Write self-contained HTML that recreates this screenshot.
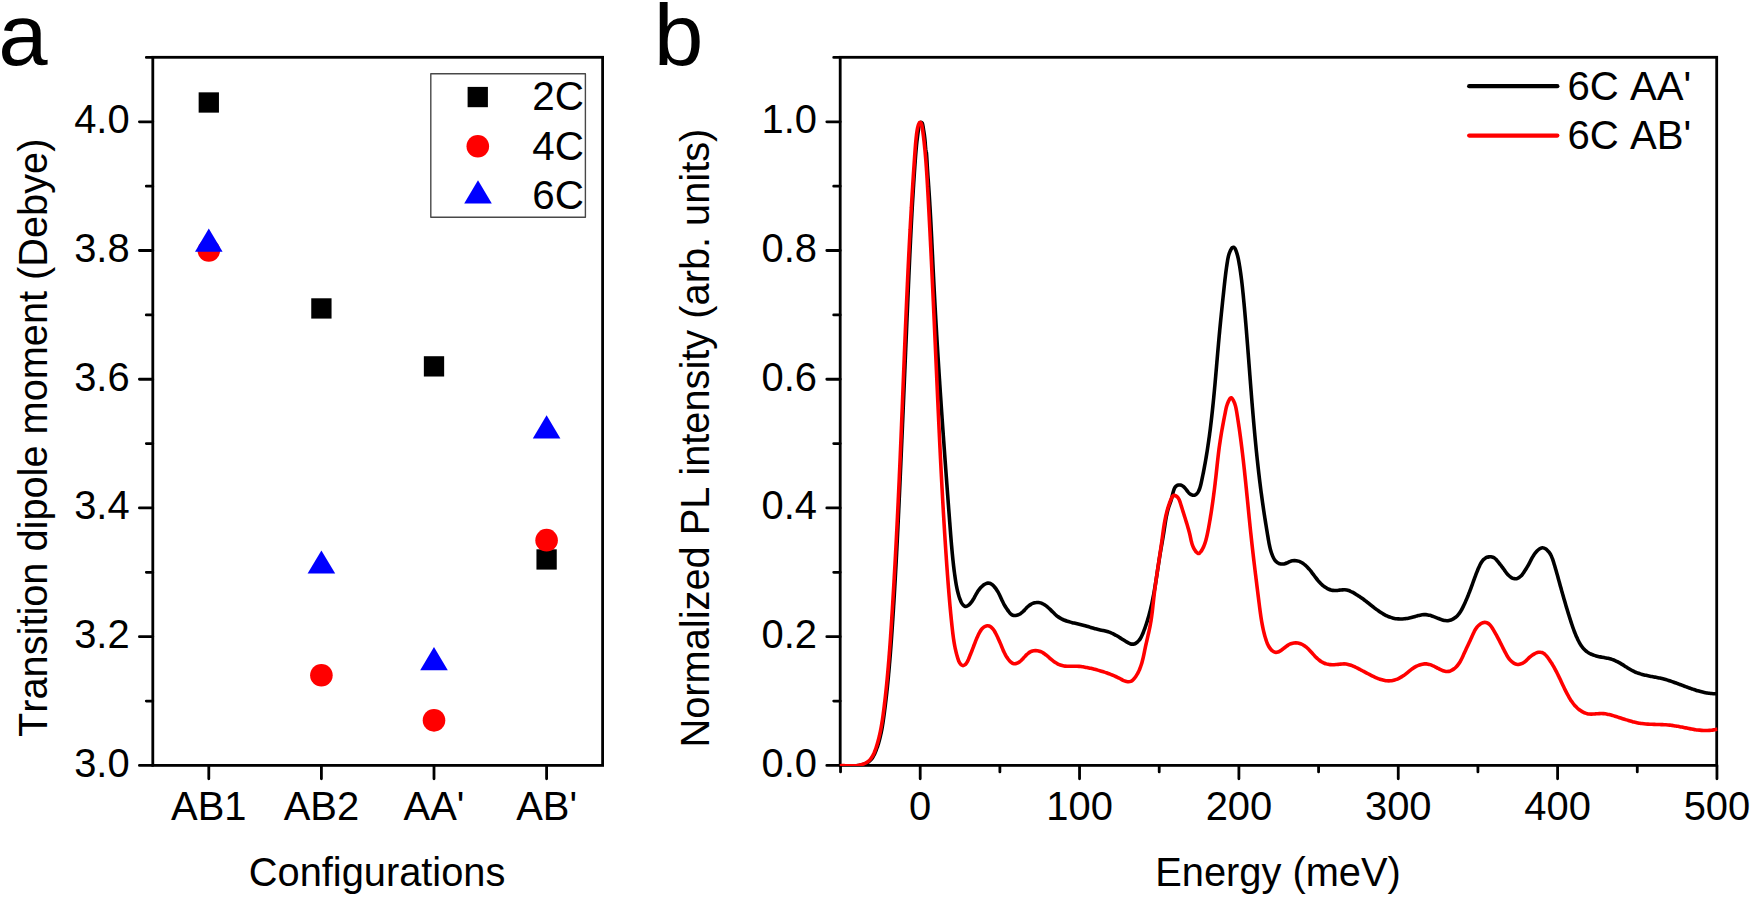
<!DOCTYPE html>
<html lang="en">
<head>
<meta charset="utf-8">
<title>Transition dipole moments and normalized PL spectra</title>
<style>
html,body{margin:0;padding:0;background:#fff;}
body{width:1750px;height:897px;overflow:hidden;}
svg{display:block;}
svg text{font-family:"Liberation Sans", Arial, Helvetica, sans-serif;fill:#000;font-kerning:none;}
</style>
</head>
<body>
<svg width="1750" height="897" viewBox="0 0 1750 897">
<rect width="1750" height="897" fill="#fff"/>
<text transform="translate(-1.8 64.9) scale(1.02 1)" font-size="87">a</text>
<text transform="translate(653.74 64.7) scale(1.0275 1)" font-size="87">b</text>
<g id="panel-a">
<rect x="152.8" y="57.3" width="449.8" height="708.1" fill="none" stroke="#000" stroke-width="2.8"/>
<path d="M152.8 765.4h-13.4M152.8 701.04h-6.5M152.8 636.68h-13.4M152.8 572.32h-6.5M152.8 507.96h-13.4M152.8 443.6h-6.5M152.8 379.24h-13.4M152.8 314.88h-6.5M152.8 250.52h-13.4M152.8 186.16h-6.5M152.8 121.8h-13.4M152.8 57.44h-6.5M208.8 765.4v13.4M321.4 765.4v13.4M434 765.4v13.4M546.6 765.4v13.4" stroke="#000" stroke-width="2.8" stroke-linecap="round" fill="none"/>
<text transform="translate(74.18 776.9) scale(0.9612 1)" font-size="41.5">3.0</text>
<text transform="translate(74.18 648.18) scale(0.9612 1)" font-size="41.5">3.2</text>
<text transform="translate(74.18 519.46) scale(0.9612 1)" font-size="41.5">3.4</text>
<text transform="translate(74.18 390.74) scale(0.9612 1)" font-size="41.5">3.6</text>
<text transform="translate(74.18 262.02) scale(0.9612 1)" font-size="41.5">3.8</text>
<text transform="translate(74.18 133.3) scale(0.9612 1)" font-size="41.5">4.0</text>
<text transform="translate(208.8 820) scale(0.9614 1)" text-anchor="middle" font-size="41.5">AB1</text>
<text transform="translate(321.4 820) scale(0.9614 1)" text-anchor="middle" font-size="41.5">AB2</text>
<text transform="translate(434 820) scale(0.9614 1)" text-anchor="middle" font-size="41.5">AA'</text>
<text transform="translate(546.6 820) scale(0.9614 1)" text-anchor="middle" font-size="41.5">AB'</text>
<text transform="translate(248.78 886.3) scale(0.9708 1)" font-size="41.0">Configurations</text>
<text transform="translate(47.4 736.99) rotate(-90) scale(0.9694 1)" font-size="41.0">Transition dipole moment (Debye)</text>
<rect x="198.65" y="92.34" width="20.3" height="20.3" fill="#000"/>
<rect x="311.25" y="298.29" width="20.3" height="20.3" fill="#000"/>
<rect x="423.85" y="356.22" width="20.3" height="20.3" fill="#000"/>
<rect x="536.45" y="549.3" width="20.3" height="20.3" fill="#000"/>
<circle cx="208.8" cy="250.52" r="11.3" fill="#f00"/>
<circle cx="321.4" cy="675.3" r="11.3" fill="#f00"/>
<circle cx="434" cy="720.35" r="11.3" fill="#f00"/>
<circle cx="546.6" cy="540.14" r="11.3" fill="#f00"/>
<path d="M208.8 228.62L222.6 251.82H195Z" fill="#00f"/>
<path d="M321.4 550.42L335.2 573.62H307.6Z" fill="#00f"/>
<path d="M434 646.96L447.8 670.16H420.2Z" fill="#00f"/>
<path d="M546.6 415.26L560.4 438.46H532.8Z" fill="#00f"/>
<rect x="430.8" y="73.7" width="154.6" height="143.5" fill="#fff" stroke="#484848" stroke-width="1.4" stroke-linejoin="round"/>
<rect x="467.6" y="86.9" width="20.3" height="20.3" fill="#000"/>
<circle cx="477.8" cy="146.3" r="11.3" fill="#f00"/>
<path d="M478 180.33L491.8 203.53H464.2Z" fill="#00f"/>
<text transform="translate(532.17 110.4) scale(0.9740 1)" font-size="41.5">2C</text>
<text transform="translate(532.17 159.5) scale(0.9740 1)" font-size="41.5">4C</text>
<text transform="translate(532.17 208.6) scale(0.9740 1)" font-size="41.5">6C</text>
</g>
<g id="panel-b">
<rect x="840.2" y="57.3" width="876.5" height="708.1" fill="none" stroke="#000" stroke-width="2.8"/>
<path d="M840.2 765.4h-13.4M840.2 701.04h-6.5M840.2 636.68h-13.4M840.2 572.32h-6.5M840.2 507.96h-13.4M840.2 443.6h-6.5M840.2 379.24h-13.4M840.2 314.88h-6.5M840.2 250.52h-13.4M840.2 186.16h-6.5M840.2 121.8h-13.4M840.2 57.44h-6.5M840.53 765.4v6.5M920.2 765.4v13.4M999.88 765.4v6.5M1079.55 765.4v13.4M1159.22 765.4v6.5M1238.9 765.4v13.4M1318.58 765.4v6.5M1398.25 765.4v13.4M1477.93 765.4v6.5M1557.6 765.4v13.4M1637.28 765.4v6.5M1716.95 765.4v13.4" stroke="#000" stroke-width="2.8" stroke-linecap="round" fill="none"/>
<text transform="translate(761.44 776.9) scale(0.9619 1)" font-size="41.5">0.0</text>
<text transform="translate(761.44 648.18) scale(0.9619 1)" font-size="41.5">0.2</text>
<text transform="translate(761.44 519.46) scale(0.9619 1)" font-size="41.5">0.4</text>
<text transform="translate(761.44 390.74) scale(0.9619 1)" font-size="41.5">0.6</text>
<text transform="translate(761.44 262.02) scale(0.9619 1)" font-size="41.5">0.8</text>
<text transform="translate(761.44 133.3) scale(0.9619 1)" font-size="41.5">1.0</text>
<text transform="translate(920.2 820.3) scale(0.9614 1)" text-anchor="middle" font-size="41.5">0</text>
<text transform="translate(1079.55 820.3) scale(0.9614 1)" text-anchor="middle" font-size="41.5">100</text>
<text transform="translate(1238.9 820.3) scale(0.9614 1)" text-anchor="middle" font-size="41.5">200</text>
<text transform="translate(1398.25 820.3) scale(0.9614 1)" text-anchor="middle" font-size="41.5">300</text>
<text transform="translate(1557.6 820.3) scale(0.9614 1)" text-anchor="middle" font-size="41.5">400</text>
<text transform="translate(1716.95 820.3) scale(0.9614 1)" text-anchor="middle" font-size="41.5">500</text>
<text transform="translate(1155.33 886.2) scale(0.9708 1)" font-size="41.0">Energy (meV)</text>
<text transform="translate(709 747.46) rotate(-90) scale(0.9704 1)" font-size="41.0">Normalized PL intensity (arb. units)</text>
<clipPath id="clipb"><rect x="839.8" y="56.3" width="877.7" height="709.8"/></clipPath>
<g clip-path="url(#clipb)" fill="none" stroke-width="3.6" stroke-linejoin="round">
<path d="M837.99 765.81c.34-.01 1.37-.07 2.04-.09c.68-.01 1.36-.02 2.03-.02c.67-0 1.34 .01 2 .02c.67 .01 1.33 .02 2 .04c.66 .01 1.32 .03 1.98 .04c.66 .02 1.32 .03 1.97 .04c.66 .01 1.32 .01 1.98 0c.66-0 1.31-.01 1.97-.04c.66-.02 1.32-.06 1.99-.11c.66-.05 1.32-.11 1.99-.19c.66-.08 1.33-.18 2.01-.3c.67-.12 1.34-.25 2.01-.42c.67-.16 1.34-.34 1.99-.56c.64-.21 1.28-.45 1.9-.73c.61-.27 1.2-.58 1.76-.92c.56-.34 1.09-.72 1.59-1.12c.5-.41 .96-.86 1.4-1.33c.44-.47 .85-.97 1.24-1.5c.39-.52 .75-1.07 1.1-1.63c.35-.56 .67-1.15 .98-1.74c.31-.6 .6-1.21 .88-1.82c.28-.62 .54-1.25 .8-1.87c.26-.63 .51-1.26 .75-1.9c.24-.63 .47-1.26 .7-1.9c.22-.63 .44-1.27 .65-1.91c.21-.64 .42-1.28 .61-1.92c.2-.64 .39-1.28 .58-1.92c.18-.65 .36-1.29 .54-1.93c.17-.65 .34-1.3 .5-1.94c.16-.65 .32-1.3 .47-1.95c.15-.65 .3-1.3 .44-1.95c.14-.65 .28-1.3 .41-1.96c.13-.65 .26-1.3 .39-1.96c.12-.65 .24-1.31 .36-1.96c.12-.66 .23-1.32 .34-1.97c.12-.66 .22-1.32 .33-1.97c.11-.66 .21-1.32 .31-1.98c.1-.66 .2-1.32 .29-1.98c.1-.66 .2-1.32 .29-1.98c.09-.66 .18-1.32 .27-1.98c.09-.66 .18-1.32 .27-1.98c.09-.66 .18-1.32 .27-1.98c.08-.66 .17-1.32 .26-1.98c.08-.67 .17-1.33 .25-1.99c.08-.66 .17-1.32 .25-1.98c.08-.66 .16-1.33 .24-1.99c.08-.66 .16-1.32 .24-1.98c.08-.67 .16-1.33 .24-1.99c.08-.66 .15-1.32 .23-1.99c.08-.66 .15-1.32 .23-1.98c.07-.67 .14-1.33 .22-1.99c.07-.66 .14-1.33 .22-1.99c.07-.66 .14-1.33 .21-1.99c.07-.66 .14-1.33 .21-1.99c.07-.66 .14-1.33 .21-1.99c.07-.66 .13-1.33 .2-1.99c.07-.66 .14-1.33 .2-1.99c.07-.66 .13-1.33 .2-1.99c.06-.66 .13-1.33 .19-1.99c.06-.67 .13-1.33 .19-1.99c.06-.67 .12-1.33 .18-2c.07-.66 .13-1.33 .19-1.99c.06-.66 .12-1.33 .18-1.99c.06-.67 .11-1.33 .17-2c.06-.66 .12-1.33 .18-1.99c.05-.67 .11-1.33 .17-1.99c.05-.67 .11-1.33 .17-2c.05-.66 .11-1.33 .16-1.99c.06-.67 .11-1.33 .16-2c.06-.66 .11-1.33 .17-1.99c.05-.67 .1-1.34 .15-2c.06-.67 .11-1.33 .16-2c.05-.66 .1-1.33 .15-1.99c.05-.67 .11-1.33 .16-2c.05-.66 .1-1.33 .15-1.99c.05-.67 .09-1.34 .14-2c.05-.67 .1-1.33 .15-2c.05-.66 .1-1.33 .14-2c.05-.66 .1-1.33 .15-1.99c.05-.67 .09-1.33 .14-2c.05-.67 .09-1.33 .14-2c.05-.66 .09-1.33 .14-1.99c.04-.67 .09-1.34 .14-2c.04-.67 .09-1.33 .13-2c.05-.66 .09-1.33 .14-2c.04-.66 .09-1.33 .13-1.99c.05-.67 .09-1.34 .14-2c.04-.67 .08-1.33 .13-2c.04-.67 .09-1.33 .13-2c.04-.66 .09-1.33 .13-1.99c.04-.67 .09-1.34 .13-2c.04-.67 .08-1.33 .13-2c.04-.67 .08-1.33 .12-2c.05-.66 .09-1.33 .13-2c.04-.66 .08-1.33 .12-1.99c.05-.67 .09-1.34 .13-2c.04-.67 .08-1.33 .12-2c.04-.67 .08-1.33 .12-2c.04-.67 .09-1.33 .13-2c.04-.66 .08-1.33 .12-2c.04-.66 .08-1.33 .12-1.99c.03-.67 .07-1.34 .11-2c.04-.67 .08-1.33 .12-2c.04-.67 .08-1.33 .12-2c.04-.67 .08-1.33 .11-2c.04-.66 .08-1.33 .12-2c.04-.66 .08-1.33 .11-1.99c.04-.67 .08-1.34 .12-2c.04-.67 .07-1.34 .11-2c.04-.67 .08-1.33 .11-2c.04-.67 .08-1.33 .11-2c.04-.67 .08-1.33 .11-2c.04-.66 .08-1.33 .11-2c.04-.66 .08-1.33 .11-2c.04-.66 .08-1.33 .11-1.99c.04-.67 .07-1.34 .11-2c.03-.67 .07-1.34 .11-2c.03-.67 .07-1.33 .1-2c.04-.67 .07-1.33 .11-2c.03-.67 .07-1.33 .1-2c.04-.66 .07-1.33 .11-2c.03-.66 .07-1.33 .1-2c.03-.66 .07-1.33 .1-2c.04-.66 .07-1.33 .11-1.99c.03-.67 .06-1.34 .1-2c.03-.67 .06-1.34 .1-2c.03-.67 .07-1.33 .1-2c.03-.67 .07-1.33 .1-2c.03-.67 .07-1.33 .1-2c.03-.67 .06-1.33 .1-2c.03-.67 .06-1.33 .1-2c.03-.66 .06-1.33 .09-2c.04-.66 .07-1.33 .1-2c.03-.66 .07-1.33 .1-2c.03-.66 .06-1.33 .09-1.99c.04-.67 .07-1.34 .1-2c.03-.67 .06-1.34 .1-2c.03-.67 .06-1.34 .09-2c.03-.67 .06-1.34 .1-2c.03-.67 .06-1.33 .09-2c.03-.67 .06-1.33 .09-2c.04-.67 .07-1.33 .1-2c.03-.67 .06-1.33 .09-2c.03-.66 .06-1.33 .09-2c.04-.66 .07-1.33 .1-2c.03-.66 .06-1.33 .09-2c.03-.66 .06-1.33 .09-2c.03-.66 .06-1.33 .09-1.99c.03-.67 .06-1.34 .09-2c.04-.67 .07-1.34 .1-2c.03-.67 .06-1.34 .09-2c.03-.67 .06-1.34 .09-2c.03-.67 .06-1.33 .09-2c.03-.67 .06-1.33 .09-2c.03-.67 .06-1.33 .09-2c.03-.67 .06-1.33 .09-2c.03-.67 .06-1.33 .09-2c.03-.66 .06-1.33 .09-2c.03-.66 .06-1.33 .09-2c.03-.66 .06-1.33 .09-2c.02-.66 .05-1.33 .08-2c.03-.66 .06-1.33 .09-1.99c.03-.67 .06-1.34 .09-2c.03-.67 .06-1.34 .09-2c.03-.67 .06-1.34 .09-2c.03-.67 .06-1.33 .09-2c.03-.67 .06-1.33 .08-2c.03-.67 .06-1.33 .09-2c.03-.67 .06-1.33 .09-2c.03-.66 .06-1.33 .09-2c.03-.66 .06-1.33 .09-2c.02-.66 .05-1.33 .08-2c.03-.66 .06-1.33 .09-2c.03-.66 .06-1.33 .09-1.99c.03-.67 .06-1.34 .08-2c.03-.67 .06-1.34 .09-2c.03-.67 .06-1.34 .09-2c.03-.67 .06-1.33 .09-2c.02-.67 .05-1.33 .08-2c.03-.67 .06-1.33 .09-2c.03-.67 .06-1.33 .08-2c.03-.67 .06-1.33 .09-2c.03-.66 .06-1.33 .09-2c.03-.66 .05-1.33 .08-2c.03-.66 .06-1.33 .09-2c.03-.66 .06-1.33 .09-1.99c.02-.67 .05-1.34 .08-2c.03-.67 .06-1.34 .09-2c.03-.67 .05-1.34 .08-2c.03-.67 .06-1.34 .09-2c.03-.67 .06-1.33 .08-2c.03-.67 .06-1.33 .09-2c.03-.67 .06-1.33 .09-2c.02-.67 .05-1.33 .08-2c.03-.66 .06-1.33 .09-2c.02-.66 .05-1.33 .08-2c.03-.66 .06-1.33 .09-2c.03-.66 .05-1.33 .08-2c.03-.66 .06-1.33 .09-2c.03-.66 .05-1.33 .08-1.99c.03-.67 .06-1.34 .09-2c.03-.67 .05-1.34 .08-2c.03-.67 .06-1.34 .09-2c.03-.67 .05-1.34 .08-2c.03-.67 .06-1.33 .09-2c.03-.67 .05-1.33 .08-2c.03-.67 .06-1.33 .09-2c.03-.67 .05-1.33 .08-2c.03-.67 .06-1.33 .09-2c.02-.67 .05-1.33 .08-2c.03-.67 .06-1.33 .09-2c.02-.66 .05-1.33 .08-2c.03-.66 .06-1.33 .09-2c.02-.66 .05-1.33 .08-2c.03-.66 .06-1.33 .09-2c.02-.66 .05-1.33 .08-2c.03-.66 .06-1.33 .08-2c.03-.66 .06-1.33 .09-2c.03-.66 .06-1.33 .08-1.99c.03-.67 .06-1.34 .09-2c.03-.67 .06-1.34 .08-2c.03-.67 .06-1.34 .09-2c.03-.67 .06-1.34 .08-2c.03-.67 .06-1.34 .09-2c.03-.67 .05-1.34 .08-2c.03-.67 .06-1.34 .09-2c.03-.67 .05-1.34 .08-2c.03-.67 .06-1.34 .09-2c.03-.67 .05-1.34 .08-2c.03-.67 .06-1.34 .09-2c.03-.67 .05-1.34 .08-2c.03-.67 .06-1.34 .09-2c.03-.67 .06-1.34 .08-2c.03-.67 .06-1.34 .09-2c.03-.67 .06-1.34 .08-2c.03-.67 .06-1.34 .09-2c.03-.67 .06-1.34 .08-2c.03-.67 .06-1.34 .09-2c.03-.67 .06-1.34 .09-2c.02-.67 .05-1.34 .08-2c.03-.67 .06-1.34 .09-2c.03-.67 .05-1.34 .08-2c.03-.67 .06-1.34 .09-2.01c.03-.66 .06-1.33 .08-2c.03-.66 .06-1.33 .09-2c.03-.66 .06-1.33 .09-2c.03-.66 .05-1.33 .08-2c.03-.66 .06-1.33 .09-2c.03-.66 .06-1.33 .09-2c.02-.66 .05-1.33 .08-2c.03-.67 .06-1.33 .09-2c.03-.67 .06-1.33 .09-2c.02-.67 .05-1.33 .08-2c.03-.67 .06-1.33 .09-2c.03-.67 .06-1.34 .09-2c.03-.67 .05-1.34 .08-2c.03-.67 .06-1.34 .09-2c.03-.67 .06-1.34 .09-2c.03-.67 .06-1.34 .09-2.01c.03-.66 .06-1.33 .09-2c.02-.66 .05-1.33 .08-2c.03-.66 .06-1.33 .09-2c.03-.66 .06-1.33 .09-2c.03-.67 .06-1.33 .09-2c.03-.67 .06-1.33 .09-2c.03-.67 .06-1.33 .09-2c.03-.67 .06-1.33 .09-2c.03-.67 .06-1.34 .09-2c.03-.67 .07-1.34 .1-2c.03-.67 .06-1.34 .09-2c.03-.67 .06-1.34 .09-2c.03-.67 .06-1.34 .1-2c.03-.67 .06-1.34 .09-2c.03-.67 .06-1.34 .09-2c.04-.67 .07-1.34 .1-2c.03-.67 .06-1.34 .09-2c.04-.67 .07-1.34 .1-2c.03-.67 .07-1.34 .1-2c.03-.67 .06-1.34 .1-2c.03-.67 .06-1.34 .1-2c.03-.67 .06-1.34 .09-2c.04-.67 .07-1.34 .1-2c.04-.67 .07-1.34 .11-2c.03-.67 .06-1.33 .1-2c.03-.67 .07-1.33 .1-2c.03-.67 .07-1.33 .1-2c.04-.66 .07-1.33 .11-2c.03-.66 .07-1.33 .1-2c.04-.66 .07-1.33 .11-1.99c.04-.67 .07-1.34 .11-2c.03-.67 .07-1.33 .11-2c.03-.67 .07-1.33 .1-2c.04-.66 .08-1.33 .11-2c.04-.66 .08-1.33 .12-1.99c.03-.67 .07-1.34 .11-2c.04-.67 .07-1.33 .11-2c.04-.66 .08-1.33 .12-1.99c.03-.67 .07-1.34 .11-2c.04-.67 .08-1.33 .12-2c.04-.66 .08-1.33 .12-1.99c.04-.67 .08-1.34 .12-2c.04-.67 .08-1.33 .12-2c.04-.66 .08-1.33 .12-1.99c.04-.67 .08-1.33 .12-2c.04-.66 .08-1.33 .12-1.99c.05-.67 .09-1.33 .13-2c.04-.66 .08-1.33 .13-1.99c.04-.67 .08-1.33 .13-2c.04-.66 .08-1.33 .12-1.99c.05-.67 .09-1.33 .14-1.99c.04-.67 .08-1.33 .13-2c.04-.66 .09-1.33 .13-1.99c.05-.67 .09-1.33 .14-1.99c.04-.67 .09-1.33 .13-2c.05-.66 .1-1.33 .14-1.99c.05-.66 .1-1.33 .14-1.99c.05-.67 .1-1.33 .14-1.99c.05-.67 .1-1.33 .15-1.99c.04-.67 .09-1.33 .14-2c.05-.66 .1-1.32 .15-1.99c.05-.66 .1-1.33 .16-1.99c.05-.66 .1-1.33 .16-1.99c.05-.67 .11-1.33 .16-2c.06-.66 .12-1.33 .18-1.99c.06-.67 .12-1.33 .18-2c.06-.66 .13-1.33 .19-1.99c.07-.67 .14-1.34 .21-2c.07-.67 .14-1.34 .21-2c.08-.67 .15-1.34 .23-2.01c.08-.67 .16-1.33 .24-2c.09-.67 .17-1.34 .26-2.01c.09-.67 .18-1.34 .27-2.01c.09-.67 .19-1.34 .29-2.02c.1-.67 .2-1.34 .3-2.01c.11-.68 .21-1.35 .33-2.02c.11-.68 .19-1.38 .36-2.01c.17-.64 .33-1.32 .63-1.79c.3-.47 .78-1.01 1.17-1.05c.39-.03 .86 .36 1.16 .83c.3 .47 .46 1.28 .62 1.99c.17 .71 .25 1.55 .37 2.28c.12 .72 .22 1.42 .33 2.1c.11 .67 .21 1.31 .31 1.95c.1 .63 .2 1.25 .3 1.87c.09 .62 .18 1.22 .27 1.85c.08 .63 .17 1.25 .25 1.9c.08 .66 .16 1.32 .23 2.02c.07 .7 .14 1.44 .21 2.2c.06 .75 .13 1.57 .19 2.35c.06 .78 .11 1.58 .17 2.31c.06 .73 .12 1.45 .17 2.06c.06 .61 .12 1.18 .17 1.6c.06 .42 .12 .68 .18 .92c.07 .24 .13 .28 .19 .54c.06 .25 .12 .6 .17 1.01c.06 .41 .11 .91 .16 1.45c.06 .55 .11 1.16 .16 1.81c.05 .66 .09 1.37 .14 2.09c.05 .73 .09 1.51 .14 2.29c.05 .77 .09 1.59 .14 2.39c.04 .8 .09 1.62 .13 2.42c.05 .79 .09 1.59 .14 2.36c.05 .78 .09 1.53 .14 2.28c.05 .74 .1 1.47 .14 2.19c.05 .72 .1 1.43 .15 2.13c.04 .7 .09 1.39 .14 2.07c.05 .68 .1 1.35 .14 2.02c.05 .67 .1 1.33 .15 1.98c.05 .66 .09 1.31 .14 1.97c.05 .65 .09 1.29 .14 1.94c.05 .65 .09 1.3 .14 1.95c.05 .65 .09 1.29 .14 1.94c.04 .65 .09 1.3 .13 1.95c.05 .65 .09 1.31 .13 1.96c.05 .65 .09 1.3 .13 1.95c.05 .65 .09 1.31 .13 1.96c.05 .65 .09 1.31 .13 1.96c.04 .65 .08 1.31 .12 1.96c.04 .66 .08 1.31 .13 1.97c.04 .65 .08 1.31 .12 1.97c.04 .65 .08 1.31 .11 1.97c.04 .65 .08 1.31 .12 1.97c.04 .66 .08 1.32 .12 1.97c.04 .66 .07 1.32 .11 1.98c.04 .66 .08 1.32 .11 1.98c.04 .66 .08 1.32 .11 1.98c.04 .66 .08 1.32 .11 1.98c.04 .66 .08 1.33 .11 1.99c.04 .66 .07 1.32 .11 1.98c.03 .67 .07 1.33 .11 1.99c.03 .66 .07 1.33 .1 1.99c.03 .66 .07 1.33 .1 1.99c.04 .67 .07 1.33 .11 1.99c.03 .67 .06 1.33 .1 2c.03 .66 .07 1.33 .1 1.99c.03 .67 .07 1.33 .1 2c.03 .67 .07 1.33 .1 2c.03 .66 .07 1.33 .1 2c.03 .66 .06 1.33 .1 2c.03 .66 .06 1.33 .09 2c.04 .66 .07 1.33 .1 2c.03 .67 .07 1.33 .1 2c.03 .67 .06 1.34 .1 2.01c.03 .66 .06 1.33 .09 2c.03 .67 .07 1.34 .1 2c.03 .67 .06 1.34 .1 2.01c.03 .67 .06 1.34 .09 2.01c.03 .67 .07 1.33 .1 2c.03 .67 .06 1.34 .09 2.01c.04 .67 .07 1.34 .1 2.01c.03 .67 .06 1.33 .1 2c.03 .67 .06 1.34 .09 2.01c.04 .67 .07 1.34 .1 2.01c.03 .67 .07 1.34 .1 2.01c.03 .67 .06 1.34 .1 2c.03 .67 .06 1.34 .09 2.01c.04 .67 .07 1.34 .1 2.01c.04 .67 .07 1.34 .1 2.01c.04 .67 .07 1.33 .1 2c.04 .67 .07 1.34 .11 2.01c.03 .67 .06 1.34 .1 2.01c.03 .66 .07 1.33 .1 2c.03 .67 .07 1.34 .1 2.01c.04 .67 .07 1.33 .11 2c.03 .67 .07 1.34 .1 2.01c.04 .67 .07 1.33 .11 2c.03 .67 .07 1.34 .1 2.01c.04 .66 .07 1.33 .11 2c.04 .67 .07 1.34 .11 2c.03 .67 .07 1.34 .11 2.01c.03 .67 .07 1.33 .1 2c.04 .67 .08 1.34 .11 2c.04 .67 .08 1.34 .11 2.01c.04 .66 .08 1.33 .12 2c.03 .67 .07 1.33 .11 2c.03 .67 .07 1.34 .11 2c.04 .67 .07 1.34 .11 2c.04 .67 .08 1.34 .11 2.01c.04 .66 .08 1.33 .12 2c.04 .66 .08 1.33 .11 2c.04 .67 .08 1.33 .12 2c.04 .67 .08 1.33 .11 2c.04 .67 .08 1.33 .12 2c.04 .67 .08 1.33 .12 2c.04 .67 .08 1.33 .12 2c.03 .67 .07 1.33 .11 2c.04 .67 .08 1.33 .12 2c.04 .67 .08 1.33 .12 2c.04 .67 .08 1.33 .12 2c.04 .66 .08 1.33 .12 2c.04 .66 .08 1.33 .12 2c.04 .66 .08 1.33 .13 1.99c.04 .67 .08 1.34 .12 2c.04 .67 .08 1.33 .12 2c.04 .67 .08 1.33 .12 2c.05 .66 .09 1.33 .13 2c.04 .66 .08 1.33 .12 1.99c.04 .67 .09 1.34 .13 2c.04 .67 .08 1.33 .12 2c.04 .66 .09 1.33 .13 2c.04 .66 .08 1.33 .13 1.99c.04 .67 .08 1.33 .12 2c.04 .67 .09 1.33 .13 2c.04 .66 .09 1.33 .13 1.99c.04 .67 .08 1.33 .13 2c.04 .67 .08 1.33 .13 2c.04 .66 .08 1.33 .13 1.99c.04 .67 .08 1.33 .13 2c.04 .66 .08 1.33 .13 2c.04 .66 .08 1.33 .13 1.99c.04 .67 .08 1.33 .13 2c.04 .66 .09 1.33 .13 1.99c.04 .67 .09 1.33 .13 2c.05 .66 .09 1.33 .14 1.99c.04 .67 .08 1.33 .13 2c.04 .66 .09 1.33 .13 1.99c.05 .67 .09 1.33 .14 2c.04 .66 .09 1.33 .13 1.99c.05 .67 .09 1.33 .14 2c.04 .66 .09 1.33 .13 1.99c.05 .67 .09 1.33 .14 2c.04 .66 .09 1.33 .13 1.99c.05 .67 .09 1.33 .14 2c.05 .66 .09 1.33 .14 1.99c.04 .67 .09 1.33 .14 2c.04 .66 .09 1.33 .13 1.99c.05 .67 .1 1.33 .14 2c.05 .66 .09 1.33 .14 1.99c.05 .67 .09 1.33 .14 2c.05 .66 .09 1.33 .14 1.99c.05 .67 .09 1.33 .14 2c.05 .66 .09 1.33 .14 1.99c.05 .67 .09 1.33 .14 2c.05 .66 .09 1.33 .14 1.99c.05 .66 .09 1.33 .14 1.99c.05 .67 .1 1.33 .14 2c.05 .66 .1 1.33 .14 1.99c.05 .67 .1 1.33 .15 2c.04 .66 .09 1.33 .14 1.99c.05 .67 .1 1.33 .14 2c.05 .66 .1 1.33 .15 1.99c.04 .67 .09 1.33 .14 2c.05 .66 .1 1.33 .14 1.99c.05 .66 .1 1.33 .15 1.99c.05 .67 .09 1.33 .14 2c.05 .66 .1 1.33 .15 1.99c.05 .67 .09 1.33 .14 2c.05 .66 .1 1.33 .15 1.99c.05 .67 .09 1.33 .14 2c.05 .66 .1 1.33 .15 1.99c.05 .67 .1 1.33 .15 2c.04 .66 .09 1.33 .14 1.99c.05 .67 .1 1.33 .15 2c.05 .66 .1 1.33 .15 1.99c.04 .67 .09 1.33 .14 2c.05 .66 .1 1.33 .15 1.99c.05 .67 .1 1.33 .15 2c.05 .66 .1 1.33 .15 1.99c.05 .67 .1 1.33 .14 2c.05 .66 .1 1.33 .15 1.99c.05 .67 .1 1.33 .15 2c.05 .66 .1 1.33 .15 1.99c.05 .67 .1 1.34 .15 2c.05 .67 .1 1.33 .15 2c.05 .66 .1 1.33 .15 1.99c.05 .67 .1 1.33 .15 2c.05 .66 .1 1.33 .15 1.99c.05 .67 .1 1.34 .15 2c.05 .67 .1 1.33 .15 2c.05 .66 .1 1.33 .15 1.99c.05 .67 .1 1.34 .15 2c.05 .67 .1 1.33 .15 2c.05 .66 .1 1.33 .15 1.99c.05 .67 .1 1.34 .15 2c.05 .67 .1 1.33 .15 2c.05 .67 .11 1.33 .16 2c.05 .66 .1 1.33 .15 1.99c.05 .67 .1 1.34 .15 2c.05 .67 .1 1.33 .15 2c.05 .67 .1 1.33 .15 2c.05 .66 .1 1.33 .16 2c.05 .66 .1 1.33 .15 2c.05 .66 .1 1.33 .15 1.99c.05 .67 .1 1.34 .15 2c.05 .67 .11 1.33 .16 2c.05 .67 .1 1.33 .15 2c.06 .67 .11 1.33 .16 2c.05 .66 .11 1.33 .16 2c.05 .66 .11 1.33 .16 1.99c.06 .67 .11 1.34 .17 2c.05 .67 .11 1.33 .16 2c.06 .66 .12 1.33 .18 2c.05 .66 .11 1.33 .17 1.99c.06 .67 .12 1.33 .18 2c.06 .66 .12 1.33 .19 1.99c.06 .67 .12 1.33 .19 1.99c.06 .67 .13 1.33 .19 2c.07 .66 .14 1.33 .2 1.99c.07 .66 .14 1.33 .21 1.99c.07 .66 .14 1.33 .22 1.99c.07 .66 .14 1.32 .22 1.99c.07 .66 .15 1.32 .23 1.98c.08 .67 .16 1.33 .24 1.99c.08 .66 .16 1.32 .24 1.98c.09 .66 .17 1.32 .26 1.98c.08 .67 .17 1.33 .26 1.99c.09 .66 .18 1.31 .27 1.97c.09 .66 .19 1.32 .28 1.98c.1 .66 .2 1.32 .3 1.98c.1 .65 .2 1.31 .31 1.97c.1 .65 .21 1.31 .33 1.97c.11 .65 .23 1.3 .36 1.96c.12 .65 .25 1.3 .39 1.95c.13 .66 .27 1.31 .42 1.95c.15 .65 .3 1.3 .47 1.95c.16 .64 .33 1.29 .51 1.93c.18 .64 .37 1.28 .56 1.92c.2 .64 .41 1.28 .63 1.92c.21 .63 .44 1.26 .68 1.9c.24 .63 .48 1.26 .76 1.88c.28 .61 .56 1.23 .92 1.81c.36 .57 .77 1.15 1.25 1.62c.49 .47 1.08 .97 1.65 1.19c.58 .22 1.21 .27 1.8 .12c.59-.14 1.19-.58 1.74-.99c.55-.41 1.07-.94 1.55-1.44c.49-.51 .94-1.05 1.37-1.59c.42-.54 .82-1.1 1.19-1.66c.38-.55 .73-1.12 1.07-1.68c.34-.56 .66-1.12 .98-1.69c.32-.56 .62-1.13 .94-1.69c.31-.57 .61-1.14 .94-1.7c.32-.56 .64-1.13 .99-1.68c.34-.56 .7-1.12 1.08-1.68c.39-.55 .79-1.11 1.23-1.65c.44-.55 .91-1.1 1.41-1.62c.49-.52 1.02-1.04 1.57-1.5c.54-.46 1.11-.91 1.68-1.27c.57-.36 1.16-.69 1.75-.91c.58-.23 1.18-.39 1.76-.44c.59-.05 1.17 0 1.74 .15c.57 .14 1.13 .41 1.68 .72c.54 .32 1.08 .73 1.59 1.17c.52 .45 1.02 .97 1.49 1.5c.48 .53 .94 1.12 1.37 1.7c.43 .57 .83 1.17 1.22 1.76c.38 .59 .73 1.19 1.07 1.78c.34 .59 .66 1.18 .96 1.78c.31 .59 .6 1.18 .88 1.77c.29 .6 .56 1.19 .83 1.78c.27 .59 .53 1.18 .8 1.77c.27 .58 .53 1.17 .81 1.75c.27 .59 .55 1.17 .84 1.75c.29 .58 .59 1.16 .91 1.73c.32 .57 .65 1.14 1 1.71c.34 .58 .71 1.14 1.08 1.71c.37 .57 .76 1.14 1.15 1.72c.39 .57 .79 1.16 1.21 1.74c.41 .57 .82 1.17 1.27 1.7c.45 .52 .92 1.04 1.44 1.42c.51 .39 1.08 .7 1.68 .9c.59 .19 1.25 .28 1.9 .29c.65 .01 1.34-.08 2-.22c.65-.14 1.33-.37 1.95-.63c.62-.26 1.22-.59 1.78-.95c.56-.36 1.07-.77 1.58-1.19c.5-.42 .97-.89 1.44-1.35c.47-.47 .92-.96 1.37-1.45c.46-.49 .9-.99 1.37-1.47c.47-.49 .93-.98 1.43-1.43c.5-.46 1.01-.91 1.56-1.32c.54-.4 1.12-.79 1.72-1.13c.6-.34 1.22-.65 1.86-.9c.63-.26 1.28-.48 1.93-.64c.65-.16 1.31-.27 1.96-.32c.65-.05 1.3-.03 1.93 .04c.64 .07 1.27 .2 1.88 .38c.62 .18 1.23 .41 1.83 .68c.6 .27 1.18 .59 1.76 .93c.57 .34 1.13 .72 1.68 1.12c.55 .4 1.09 .83 1.61 1.26c.53 .44 1.04 .9 1.54 1.36c.5 .46 .99 .94 1.48 1.42c.49 .48 .97 .97 1.46 1.45c.48 .48 .96 .97 1.44 1.45c.48 .47 .97 .95 1.46 1.41c.49 .46 .98 .91 1.49 1.34c.5 .43 1.01 .85 1.54 1.24c.53 .39 1.06 .76 1.62 1.11c.55 .35 1.11 .68 1.68 .99c.58 .31 1.16 .6 1.76 .87c.59 .27 1.2 .53 1.81 .77c.61 .24 1.23 .47 1.86 .68c.63 .22 1.26 .42 1.9 .61c.64 .2 1.28 .38 1.93 .55c.65 .18 1.3 .35 1.96 .51c.65 .16 1.31 .32 1.97 .47c.66 .15 1.33 .3 1.99 .45c.66 .15 1.32 .3 1.98 .45c.66 .15 1.32 .3 1.97 .45c.66 .16 1.31 .32 1.96 .48c.65 .16 1.3 .33 1.94 .51c.64 .18 1.28 .36 1.91 .55c.64 .18 1.27 .37 1.9 .56c.63 .19 1.26 .39 1.89 .58c.63 .19 1.25 .39 1.88 .58c.63 .19 1.26 .38 1.89 .56c.64 .18 1.27 .37 1.91 .54c.64 .17 1.28 .34 1.93 .5c.64 .16 1.29 .31 1.95 .45c.66 .14 1.32 .27 1.98 .4c.66 .13 1.33 .26 1.99 .4c.67 .13 1.33 .27 1.98 .43c.66 .15 1.31 .32 1.95 .51c.64 .19 1.27 .4 1.9 .62c.63 .23 1.24 .48 1.85 .74c.61 .25 1.22 .53 1.82 .82c.6 .29 1.19 .59 1.78 .9c.59 .31 1.17 .64 1.75 .97c.58 .33 1.16 .67 1.73 1.02c.57 .34 1.14 .7 1.71 1.05c.57 .36 1.14 .72 1.7 1.08c.56 .36 1.12 .72 1.68 1.08c.56 .35 1.11 .71 1.67 1.06c.56 .35 1.11 .7 1.69 1.04c.57 .33 1.15 .66 1.76 .96c.61 .31 1.25 .63 1.9 .85c.64 .22 1.32 .43 1.98 .47c.66 .04 1.33-.04 1.96-.22c.64-.18 1.27-.52 1.85-.86c.58-.35 1.13-.78 1.63-1.22c.5-.44 .95-.92 1.38-1.42c.42-.5 .8-1.04 1.17-1.58c.36-.55 .69-1.13 1-1.71c.31-.59 .6-1.19 .88-1.8c.27-.61 .53-1.23 .79-1.86c.25-.62 .5-1.25 .74-1.87c.25-.63 .49-1.26 .72-1.89c.24-.63 .47-1.26 .69-1.89c.23-.63 .45-1.26 .67-1.89c.22-.64 .43-1.27 .64-1.9c.21-.64 .42-1.28 .62-1.91c.2-.64 .4-1.28 .59-1.91c.2-.64 .39-1.28 .58-1.92c.18-.64 .37-1.28 .55-1.92c.18-.65 .36-1.29 .53-1.93c.17-.65 .34-1.29 .51-1.93c.17-.65 .33-1.29 .5-1.94c.16-.65 .32-1.29 .47-1.94c.16-.65 .31-1.3 .46-1.94c.15-.65 .3-1.3 .44-1.95c.15-.65 .29-1.3 .43-1.95c.14-.65 .28-1.31 .41-1.96c.14-.65 .27-1.3 .4-1.96c.13-.65 .26-1.3 .39-1.96c.12-.65 .25-1.3 .37-1.96c.13-.65 .25-1.31 .37-1.97c.12-.65 .23-1.31 .35-1.96c.12-.66 .23-1.32 .34-1.97c.12-.66 .23-1.32 .34-1.98c.11-.65 .22-1.31 .33-1.97c.11-.66 .21-1.32 .32-1.98c.11-.66 .21-1.31 .32-1.97c.1-.66 .2-1.32 .31-1.98c.1-.66 .2-1.32 .3-1.98c.1-.66 .21-1.32 .31-1.98c.1-.66 .2-1.32 .3-1.98c.1-.66 .2-1.32 .3-1.98c.1-.66 .2-1.32 .29-1.98c.1-.66 .2-1.33 .3-1.99c.1-.66 .2-1.32 .3-1.98c.1-.66 .2-1.32 .3-1.98c.11-.66 .21-1.32 .31-1.98c.1-.66 .2-1.32 .31-1.98c.1-.66 .2-1.32 .31-1.97c.1-.66 .21-1.32 .31-1.98c.11-.66 .22-1.32 .33-1.98c.11-.66 .22-1.31 .33-1.97c.11-.66 .22-1.32 .33-1.97c.12-.66 .23-1.32 .35-1.97c.11-.66 .23-1.32 .34-1.97c.12-.66 .23-1.32 .35-1.97c.11-.66 .23-1.32 .34-1.97c.12-.66 .23-1.32 .35-1.98c.11-.65 .23-1.31 .34-1.97c.11-.65 .22-1.31 .33-1.97c.11-.66 .22-1.31 .33-1.97c.1-.66 .21-1.32 .31-1.98c.11-.66 .21-1.32 .31-1.98c.1-.66 .2-1.32 .29-1.98c.1-.66 .2-1.32 .3-1.98c.1-.66 .2-1.32 .3-1.98c.1-.66 .2-1.32 .31-1.98c.11-.65 .21-1.31 .33-1.97c.11-.66 .23-1.31 .35-1.97c.12-.66 .24-1.31 .38-1.96c.13-.66 .27-1.31 .41-1.96c.15-.65 .3-1.3 .46-1.95c.16-.64 .32-1.29 .5-1.93c.18-.65 .36-1.29 .56-1.93c.2-.64 .4-1.28 .62-1.92c.21-.63 .44-1.27 .66-1.9c.22-.63 .45-1.26 .67-1.9c.22-.63 .43-1.26 .63-1.89c.2-.63 .39-1.26 .57-1.9c.17-.63 .33-1.26 .48-1.9c.16-.64 .3-1.28 .45-1.92c.15-.64 .3-1.29 .47-1.94c.16-.65 .33-1.31 .54-1.97c.2-.66 .41-1.35 .68-1.99c.28-.63 .57-1.29 .97-1.82c.41-.53 .89-1.02 1.45-1.37c.56-.34 1.27-.58 1.91-.7c.64-.12 1.34-.11 1.96-0c.62 .11 1.2 .36 1.76 .66c.56 .3 1.09 .71 1.59 1.16c.5 .44 .98 .96 1.44 1.49c.46 .53 .9 1.11 1.33 1.67c.43 .55 .83 1.14 1.25 1.67c.42 .53 .81 1.06 1.28 1.51c.48 .46 .98 .89 1.56 1.21c.58 .31 1.29 .59 1.94 .71c.64 .12 1.32 .13 1.91-0c.59-.13 1.13-.42 1.62-.78c.49-.36 .93-.85 1.33-1.38c.4-.52 .75-1.15 1.08-1.77c.32-.63 .6-1.32 .86-1.99c.26-.66 .48-1.34 .68-2.01c.21-.66 .39-1.32 .55-1.97c.17-.66 .32-1.31 .47-1.96c.15-.65 .29-1.3 .43-1.95c.14-.65 .28-1.3 .42-1.95c.14-.65 .27-1.3 .41-1.95c.13-.65 .27-1.3 .4-1.95c.13-.65 .26-1.31 .39-1.96c.13-.65 .26-1.3 .39-1.95c.13-.66 .25-1.31 .38-1.96c.12-.66 .25-1.31 .37-1.96c.12-.66 .24-1.31 .36-1.97c.12-.65 .24-1.3 .36-1.96c.12-.65 .24-1.31 .35-1.96c.12-.66 .23-1.31 .34-1.97c.12-.66 .23-1.31 .34-1.97c.11-.65 .22-1.31 .33-1.97c.11-.65 .21-1.31 .32-1.97c.11-.65 .21-1.31 .32-1.97c.1-.66 .21-1.31 .31-1.97c.1-.66 .2-1.32 .3-1.97c.1-.66 .2-1.32 .3-1.98c.1-.66 .2-1.32 .29-1.98c.1-.66 .19-1.31 .29-1.97c.09-.66 .19-1.32 .28-1.98c.09-.66 .18-1.32 .27-1.98c.1-.66 .19-1.32 .28-1.98c.08-.66 .17-1.32 .26-1.98c.09-.67 .17-1.33 .26-1.99c.09-.66 .17-1.32 .26-1.98c.08-.66 .16-1.32 .25-1.99c.08-.66 .16-1.32 .24-1.98c.08-.66 .16-1.33 .24-1.99c.08-.66 .16-1.32 .24-1.99c.08-.66 .16-1.32 .23-1.98c.08-.67 .16-1.33 .23-1.99c.08-.66 .15-1.33 .23-1.99c.07-.66 .14-1.33 .22-1.99c.07-.66 .14-1.33 .22-1.99c.07-.67 .14-1.33 .21-1.99c.07-.67 .14-1.33 .21-2c.07-.66 .14-1.32 .21-1.99c.07-.66 .13-1.33 .2-1.99c.07-.67 .14-1.33 .2-1.99c.07-.67 .14-1.33 .2-2c.07-.66 .13-1.33 .2-1.99c.06-.67 .13-1.33 .19-2c.07-.66 .13-1.33 .19-1.99c.07-.67 .13-1.33 .19-2c.06-.66 .13-1.33 .19-1.99c.06-.67 .12-1.33 .18-2c.06-.67 .12-1.33 .19-2c.06-.66 .12-1.33 .18-1.99c.06-.67 .12-1.33 .18-2c.06-.67 .11-1.33 .17-2c.06-.66 .12-1.33 .18-1.99c.06-.67 .12-1.34 .18-2c.05-.67 .11-1.33 .17-2c.06-.66 .12-1.33 .17-2c.06-.66 .12-1.33 .18-1.99c.06-.67 .11-1.33 .17-2c.06-.66 .11-1.33 .17-2c.06-.66 .12-1.33 .17-1.99c.06-.67 .12-1.33 .18-2c.05-.67 .11-1.33 .17-2c.05-.66 .11-1.33 .17-1.99c.06-.67 .11-1.33 .17-2c.06-.66 .11-1.33 .17-1.99c.06-.67 .12-1.33 .17-2c.06-.67 .12-1.33 .18-2c.06-.66 .11-1.32 .17-1.99c.06-.66 .12-1.33 .18-1.99c.05-.67 .11-1.33 .17-2c.06-.66 .12-1.33 .18-1.99c.06-.67 .12-1.33 .18-1.99c.06-.67 .12-1.33 .18-2c.06-.66 .12-1.32 .18-1.99c.06-.66 .12-1.33 .18-1.99c.06-.66 .13-1.33 .19-1.99c.06-.66 .12-1.33 .18-1.99c.07-.66 .13-1.33 .19-1.99c.07-.66 .13-1.33 .2-1.99c.06-.66 .12-1.32 .19-1.99c.06-.66 .13-1.32 .19-1.98c.07-.67 .13-1.33 .2-1.99c.07-.66 .13-1.33 .2-1.99c.07-.66 .13-1.32 .2-1.99c.07-.66 .13-1.32 .2-1.98c.07-.66 .14-1.33 .2-1.99c.07-.66 .14-1.32 .21-1.99c.07-.66 .13-1.32 .2-1.98c.07-.67 .14-1.33 .21-1.99c.07-.66 .14-1.33 .21-1.99c.06-.66 .13-1.32 .2-1.99c.07-.66 .14-1.32 .21-1.99c.07-.66 .14-1.32 .21-1.99c.07-.66 .14-1.32 .21-1.99c.07-.66 .14-1.32 .21-1.99c.07-.66 .14-1.32 .21-1.99c.07-.66 .14-1.33 .21-1.99c.07-.67 .14-1.33 .21-2c.07-.66 .14-1.32 .21-1.99c.07-.66 .15-1.33 .22-1.99c.07-.67 .14-1.33 .22-2c.07-.66 .15-1.32 .22-1.99c.08-.66 .16-1.33 .23-1.99c.08-.66 .16-1.33 .24-1.99c.08-.66 .16-1.33 .24-1.99c.09-.66 .17-1.32 .25-1.99c.09-.66 .18-1.32 .26-1.98c.09-.66 .18-1.32 .27-1.98c.09-.66 .19-1.32 .28-1.98c.09-.66 .19-1.32 .29-1.98c.1-.66 .2-1.32 .3-1.98c.1-.65 .2-1.31 .31-1.97c.11-.65 .22-1.31 .35-1.96c.12-.65 .25-1.31 .4-1.95c.15-.65 .31-1.3 .49-1.94c.18-.65 .38-1.29 .61-1.92c.23-.64 .47-1.27 .76-1.9c.28-.62 .58-1.27 .93-1.86c.34-.59 .71-1.32 1.15-1.68c.44-.36 1.04-.61 1.51-.47c.47 .13 .96 .75 1.32 1.28c.36 .53 .58 1.27 .84 1.91c.25 .64 .49 1.29 .71 1.94c.22 .64 .42 1.29 .6 1.93c.19 .65 .36 1.3 .52 1.95c.16 .65 .31 1.3 .45 1.95c.14 .65 .27 1.3 .4 1.95c.13 .66 .25 1.31 .37 1.96c.11 .66 .23 1.31 .34 1.97c.11 .65 .22 1.31 .33 1.97c.11 .65 .22 1.31 .32 1.97c.1 .65 .2 1.31 .3 1.97c.1 .66 .2 1.32 .29 1.97c.1 .66 .19 1.32 .28 1.98c.09 .66 .18 1.32 .27 1.98c.09 .66 .17 1.33 .26 1.99c.08 .66 .16 1.32 .25 1.98c.08 .66 .16 1.33 .23 1.99c.08 .66 .16 1.32 .24 1.99c.07 .66 .15 1.32 .22 1.99c.07 .66 .14 1.32 .22 1.99c.07 .66 .14 1.32 .21 1.99c.07 .66 .14 1.33 .2 1.99c.07 .66 .14 1.33 .21 1.99c.06 .67 .13 1.33 .2 2c.06 .66 .13 1.32 .19 1.99c.07 .66 .13 1.33 .19 1.99c.07 .67 .13 1.33 .19 2c.07 .66 .13 1.32 .19 1.99c.06 .66 .13 1.33 .19 1.99c.06 .67 .12 1.33 .18 2c.06 .66 .12 1.33 .18 1.99c.06 .67 .12 1.33 .18 1.99c.06 .67 .12 1.33 .17 2c.06 .66 .12 1.33 .18 1.99c.06 .67 .11 1.33 .17 2c.06 .66 .11 1.33 .17 1.99c.06 .67 .11 1.33 .17 2c.06 .66 .11 1.33 .17 1.99c.05 .67 .11 1.33 .16 2c.06 .66 .11 1.33 .17 1.99c.05 .67 .11 1.33 .16 2c.06 .66 .11 1.33 .17 1.99c.05 .67 .1 1.33 .16 2c.05 .66 .1 1.33 .16 1.99c.05 .67 .1 1.33 .16 2c.05 .66 .1 1.33 .16 1.99c.05 .67 .1 1.33 .16 2c.05 .66 .1 1.33 .15 1.99c.06 .67 .11 1.33 .16 2c.05 .66 .11 1.33 .16 1.99c.05 .67 .1 1.33 .15 2c.06 .66 .11 1.33 .16 1.99c.05 .67 .1 1.33 .15 2c.06 .67 .11 1.33 .16 2c.05 .66 .1 1.33 .15 1.99c.05 .67 .11 1.33 .16 2c.05 .66 .1 1.33 .15 1.99c.05 .67 .1 1.33 .15 2c.06 .66 .11 1.33 .16 1.99c.05 .67 .1 1.33 .15 2c.05 .66 .1 1.33 .15 1.99c.06 .67 .11 1.33 .16 2c.05 .66 .1 1.33 .15 1.99c.05 .67 .1 1.33 .16 2c.05 .66 .1 1.33 .15 1.99c.05 .67 .1 1.33 .15 2c.06 .66 .11 1.33 .16 1.99c.05 .67 .1 1.33 .15 2c.06 .66 .11 1.33 .16 1.99c.05 .67 .1 1.33 .15 2c.06 .66 .11 1.33 .16 1.99c.05 .67 .11 1.33 .16 2c.05 .66 .1 1.33 .16 1.99c.05 .67 .1 1.33 .16 2c.05 .66 .1 1.33 .15 1.99c.06 .67 .11 1.33 .16 2c.06 .66 .11 1.33 .17 1.99c.05 .67 .1 1.33 .16 2c.05 .66 .11 1.33 .16 1.99c.06 .67 .11 1.33 .16 2c.06 .66 .11 1.32 .17 1.99c.06 .66 .11 1.33 .17 1.99c.05 .67 .11 1.33 .16 2c.06 .66 .12 1.33 .17 1.99c.06 .67 .12 1.33 .17 1.99c.06 .67 .12 1.33 .17 2c.06 .66 .12 1.33 .18 1.99c.06 .67 .11 1.33 .17 1.99c.06 .67 .12 1.33 .18 2c.06 .66 .12 1.33 .18 1.99c.05 .67 .11 1.33 .17 1.99c.06 .67 .13 1.33 .19 2c.06 .66 .12 1.32 .18 1.99c.06 .66 .12 1.33 .18 1.99c.07 .67 .13 1.33 .19 1.99c.06 .67 .13 1.33 .19 2c.06 .66 .12 1.32 .19 1.99c.06 .66 .13 1.33 .19 1.99c.07 .66 .13 1.33 .2 1.99c.06 .66 .13 1.33 .19 1.99c.07 .67 .14 1.33 .2 1.99c.07 .67 .14 1.33 .2 1.99c.07 .67 .14 1.33 .21 2c.07 .66 .13 1.32 .2 1.99c.07 .66 .14 1.32 .21 1.99c.07 .66 .14 1.32 .21 1.99c.07 .66 .14 1.32 .22 1.99c.07 .66 .14 1.32 .21 1.99c.07 .66 .15 1.32 .22 1.99c.07 .66 .15 1.32 .22 1.99c.08 .66 .15 1.32 .23 1.98c.07 .67 .15 1.33 .22 1.99c.08 .67 .16 1.33 .23 1.99c.08 .67 .16 1.33 .24 1.99c.07 .66 .15 1.33 .23 1.99c.08 .66 .16 1.32 .24 1.99c.08 .66 .16 1.32 .24 1.98c.08 .67 .17 1.33 .25 1.99c.08 .66 .16 1.33 .25 1.99c.08 .66 .16 1.32 .25 1.99c.08 .66 .17 1.32 .25 1.98c.09 .67 .18 1.33 .26 1.99c.09 .66 .18 1.32 .26 1.99c.09 .66 .18 1.32 .27 1.98c.09 .66 .18 1.33 .27 1.99c.09 .66 .18 1.32 .27 1.98c.09 .66 .18 1.33 .28 1.99c.09 .66 .18 1.32 .28 1.98c.09 .66 .19 1.33 .28 1.99c.1 .66 .19 1.32 .29 1.98c.09 .66 .19 1.32 .29 1.99c.1 .66 .2 1.32 .29 1.98c.1 .66 .2 1.32 .3 1.98c.1 .66 .2 1.32 .31 1.98c.1 .66 .2 1.32 .3 1.98c.1 .66 .21 1.32 .31 1.98c.1 .66 .21 1.32 .31 1.98c.1 .66 .21 1.32 .31 1.98c.11 .66 .22 1.32 .32 1.97c.11 .66 .21 1.32 .32 1.98c.11 .65 .21 1.31 .32 1.97c.11 .66 .22 1.31 .33 1.97c.1 .65 .21 1.31 .32 1.96c.11 .66 .22 1.31 .33 1.97c.11 .65 .22 1.31 .33 1.96c.11 .65 .22 1.3 .33 1.96c.11 .65 .22 1.3 .33 1.95c.11 .65 .23 1.3 .35 1.95c.12 .65 .24 1.3 .37 1.95c.13 .65 .27 1.3 .41 1.95c.14 .65 .29 1.3 .46 1.94c.16 .65 .33 1.3 .51 1.95c.19 .64 .38 1.29 .59 1.93c.21 .65 .43 1.3 .67 1.94c.24 .65 .49 1.3 .77 1.94c.27 .63 .56 1.28 .88 1.89c.32 .61 .66 1.22 1.03 1.77c.38 .56 .78 1.09 1.22 1.57c.44 .47 .91 .9 1.43 1.26c.52 .36 1.09 .66 1.69 .89c.6 .22 1.25 .37 1.91 .46c.65 .09 1.34 .11 2.01 .07c.67-.05 1.36-.16 2.01-.32c.65-.17 1.27-.41 1.89-.67c.61-.26 1.19-.59 1.8-.87c.6-.28 1.2-.59 1.83-.82c.64-.23 1.31-.41 1.98-.54c.68-.12 1.38-.19 2.06-.21c.68-.01 1.36 .03 2.02 .13c.66 .09 1.31 .25 1.94 .44c.63 .19 1.25 .43 1.85 .71c.6 .27 1.18 .59 1.75 .93c.57 .34 1.12 .72 1.66 1.12c.54 .39 1.06 .81 1.56 1.25c.51 .43 1 .88 1.48 1.34c.47 .47 .94 .95 1.39 1.43c.45 .49 .89 .99 1.33 1.5c.43 .51 .85 1.03 1.27 1.55c.42 .52 .83 1.05 1.24 1.59c.41 .53 .81 1.07 1.21 1.61c.4 .53 .8 1.08 1.2 1.62c.41 .53 .81 1.07 1.21 1.61c.41 .53 .81 1.07 1.23 1.59c.41 .53 .83 1.05 1.26 1.56c.42 .51 .86 1.02 1.3 1.51c.45 .5 .9 .98 1.37 1.45c.47 .47 .94 .93 1.44 1.37c.49 .44 1 .87 1.53 1.28c.53 .41 1.07 .8 1.63 1.17c.56 .37 1.14 .72 1.73 1.04c.59 .32 1.2 .61 1.81 .87c.62 .26 1.25 .49 1.89 .67c.63 .19 1.28 .34 1.93 .44c.66 .1 1.32 .16 1.99 .17c.66 .02 1.34-.02 2.01-.06c.67-.05 1.35-.13 2.02-.21c.68-.08 1.36-.18 2.03-.25c.68-.07 1.35-.15 2.02-.18c.67-.03 1.34-.05 2-.01c.66 .04 1.31 .12 1.96 .24c.64 .13 1.28 .3 1.91 .51c.64 .2 1.26 .44 1.88 .71c.62 .26 1.23 .56 1.83 .86c.61 .31 1.2 .65 1.79 .98c.59 .34 1.17 .69 1.74 1.04c.57 .35 1.13 .71 1.69 1.07c.56 .35 1.11 .72 1.65 1.08c.55 .37 1.09 .74 1.63 1.11c.53 .38 1.06 .76 1.59 1.14c.53 .38 1.06 .77 1.58 1.16c.53 .39 1.05 .79 1.57 1.19c.52 .4 1.05 .8 1.57 1.21c.52 .41 1.05 .82 1.57 1.24c.53 .41 1.05 .83 1.58 1.25c.53 .42 1.06 .85 1.59 1.27c.53 .42 1.07 .85 1.61 1.27c.53 .42 1.07 .84 1.61 1.25c.55 .41 1.09 .83 1.64 1.23c.55 .41 1.1 .81 1.65 1.2c.56 .39 1.12 .78 1.68 1.15c.56 .38 1.12 .75 1.69 1.1c.57 .36 1.15 .71 1.73 1.04c.57 .33 1.16 .66 1.74 .96c.59 .31 1.18 .6 1.78 .88c.6 .27 1.2 .53 1.81 .78c.61 .24 1.22 .46 1.84 .67c.62 .2 1.25 .39 1.88 .56c.63 .16 1.27 .3 1.91 .43c.64 .12 1.29 .22 1.94 .3c.65 .08 1.31 .15 1.97 .19c.66 .04 1.32 .07 1.99 .07c.66 .01 1.33-0 2-.03c.67-.03 1.34-.08 2.01-.14c.67-.07 1.34-.15 2.01-.24c.68-.1 1.35-.21 2.01-.34c.67-.13 1.34-.27 2-.42c.66-.16 1.33-.33 1.98-.51c.66-.18 1.32-.37 1.97-.56c.65-.19 1.3-.39 1.95-.58c.65-.18 1.3-.37 1.95-.54c.64-.17 1.29-.33 1.93-.46c.64-.13 1.29-.25 1.93-.34c.64-.08 1.29-.15 1.93-.17c.64-.02 1.29-0 1.93 .04c.65 .05 1.29 .14 1.93 .26c.65 .11 1.29 .26 1.94 .42c.64 .17 1.29 .36 1.93 .57c.65 .2 1.29 .43 1.94 .67c.64 .24 1.28 .49 1.93 .74c.64 .25 1.28 .52 1.92 .78c.65 .25 1.29 .52 1.93 .77c.64 .25 1.28 .49 1.91 .71c.64 .21 1.28 .42 1.92 .58c.64 .16 1.28 .3 1.92 .38c.63 .09 1.27 .14 1.91 .13c.64-.01 1.28-.08 1.92-.2c.63-.12 1.27-.3 1.9-.52c.62-.23 1.25-.51 1.85-.82c.6-.31 1.19-.67 1.75-1.06c.57-.38 1.12-.81 1.63-1.25c.52-.44 1.01-.91 1.47-1.4c.46-.49 .88-.99 1.29-1.52c.41-.52 .79-1.06 1.15-1.61c.37-.55 .71-1.11 1.04-1.69c.33-.57 .65-1.15 .96-1.74c.3-.59 .6-1.19 .9-1.79c.29-.59 .58-1.2 .87-1.8c.29-.61 .57-1.21 .85-1.82c.28-.61 .56-1.23 .83-1.84c.28-.61 .55-1.23 .82-1.85c.26-.62 .53-1.24 .79-1.86c.26-.62 .51-1.24 .77-1.86c.25-.62 .5-1.25 .75-1.87c.25-.62 .49-1.25 .73-1.87c.25-.62 .49-1.25 .72-1.87c.24-.63 .47-1.25 .7-1.87c.23-.62 .46-1.25 .69-1.87c.22-.62 .44-1.24 .67-1.86c.22-.62 .44-1.24 .66-1.85c.22-.62 .44-1.24 .66-1.86c.22-.62 .45-1.24 .67-1.86c.22-.61 .45-1.23 .68-1.85c.22-.62 .45-1.24 .69-1.86c.23-.62 .47-1.24 .71-1.87c.24-.62 .49-1.24 .74-1.87c.25-.62 .51-1.25 .77-1.88c.26-.63 .53-1.25 .81-1.89c.28-.63 .56-1.26 .85-1.89c.3-.63 .59-1.27 .91-1.89c.32-.61 .65-1.23 1.01-1.8c.36-.58 .73-1.15 1.14-1.67c.4-.52 .83-1.02 1.29-1.46c.46-.44 .96-.85 1.49-1.19c.53-.34 1.11-.63 1.72-.85c.61-.22 1.27-.38 1.93-.46c.66-.09 1.36-.1 2.03-.04c.66 .06 1.34 .2 1.97 .42c.62 .22 1.22 .53 1.77 .91c.55 .38 1.03 .86 1.5 1.35c.47 .5 .9 1.07 1.33 1.61c.43 .54 .84 1.11 1.26 1.64c.42 .54 .85 1.05 1.27 1.57c.41 .51 .83 1.01 1.24 1.53c.41 .51 .82 1.02 1.21 1.55c.4 .53 .78 1.07 1.16 1.61c.38 .54 .76 1.1 1.14 1.64c.39 .55 .77 1.1 1.17 1.63c.4 .54 .81 1.07 1.24 1.58c.44 .51 .88 1.01 1.36 1.48c.48 .47 .98 .92 1.52 1.33c.54 .42 1.12 .82 1.72 1.14c.59 .32 1.23 .62 1.87 .78c.64 .17 1.31 .25 1.97 .21c.65-.04 1.33-.22 1.96-.46c.63-.24 1.26-.6 1.83-.97c.56-.38 1.08-.83 1.56-1.29c.48-.46 .89-.97 1.3-1.49c.41-.52 .77-1.07 1.15-1.62c.37-.55 .73-1.12 1.1-1.69c.37-.57 .74-1.14 1.11-1.72c.36-.57 .73-1.15 1.08-1.73c.35-.58 .71-1.16 1.04-1.75c.34-.58 .66-1.16 .98-1.74c.31-.58 .62-1.16 .92-1.74c.3-.58 .59-1.15 .89-1.73c.3-.58 .6-1.15 .91-1.72c.3-.57 .61-1.14 .94-1.71c.33-.56 .66-1.13 1.02-1.69c.36-.56 .73-1.12 1.13-1.67c.4-.56 .82-1.11 1.27-1.66c.45-.54 .94-1.1 1.44-1.61c.51-.51 1.05-1.02 1.6-1.43c.55-.42 1.12-.8 1.7-1.06c.58-.26 1.18-.45 1.78-.48c.6-.03 1.22 .08 1.81 .29c.59 .22 1.2 .6 1.76 .98c.55 .39 1.09 .86 1.57 1.33c.49 .47 .94 .98 1.35 1.5c.42 .51 .8 1.06 1.15 1.62c.36 .56 .68 1.14 .98 1.73c.31 .6 .58 1.21 .84 1.82c.27 .62 .5 1.25 .74 1.89c.23 .63 .44 1.28 .65 1.92c.21 .64 .41 1.29 .61 1.94c.2 .65 .4 1.29 .59 1.94c.2 .64 .39 1.29 .58 1.93c.19 .64 .38 1.29 .56 1.93c.19 .64 .38 1.28 .56 1.92c.18 .64 .36 1.28 .54 1.92c.19 .64 .37 1.28 .54 1.92c.18 .64 .36 1.28 .54 1.92c.18 .64 .35 1.28 .53 1.92c.17 .64 .35 1.27 .53 1.91c.17 .64 .35 1.28 .52 1.92c.18 .64 .35 1.28 .53 1.92c.18 .64 .35 1.28 .53 1.92c.18 .64 .36 1.28 .54 1.92c.17 .65 .35 1.29 .53 1.93c.18 .64 .36 1.29 .55 1.93c.18 .64 .36 1.28 .54 1.93c.18 .64 .37 1.28 .55 1.93c.18 .64 .37 1.28 .55 1.93c.19 .64 .37 1.29 .56 1.93c.19 .64 .37 1.28 .56 1.93c.19 .64 .38 1.28 .57 1.93c.18 .64 .37 1.28 .56 1.92c.19 .64 .39 1.29 .58 1.93c.19 .64 .38 1.28 .57 1.92c.2 .64 .39 1.28 .59 1.92c.19 .63 .39 1.27 .58 1.91c.2 .64 .4 1.27 .59 1.91c.2 .64 .4 1.27 .6 1.91c.2 .63 .4 1.26 .6 1.9c.2 .63 .4 1.26 .6 1.89c.2 .63 .41 1.26 .61 1.89c.21 .63 .41 1.26 .62 1.88c.21 .63 .42 1.26 .64 1.88c.21 .63 .43 1.25 .65 1.88c.22 .62 .45 1.24 .68 1.86c.23 .63 .46 1.25 .7 1.87c.24 .62 .49 1.24 .74 1.86c.25 .62 .51 1.24 .77 1.86c.26 .62 .53 1.24 .81 1.86c.28 .62 .56 1.24 .85 1.85c.29 .62 .59 1.24 .91 1.84c.31 .61 .63 1.22 .96 1.81c.34 .59 .68 1.18 1.04 1.76c.36 .57 .73 1.13 1.12 1.68c.38 .55 .79 1.08 1.21 1.59c.42 .52 .85 1.01 1.31 1.49c.45 .47 .93 .93 1.42 1.35c.49 .43 1.01 .83 1.54 1.21c.53 .38 1.09 .73 1.65 1.07c.57 .33 1.15 .64 1.75 .93c.59 .29 1.2 .55 1.82 .8c.62 .25 1.25 .48 1.89 .69c.64 .22 1.28 .41 1.93 .59c.65 .18 1.31 .34 1.96 .49c.66 .15 1.32 .28 1.98 .4c.66 .13 1.32 .24 1.98 .36c.67 .11 1.33 .22 1.99 .33c.66 .12 1.31 .22 1.97 .35c.65 .12 1.31 .24 1.95 .39c.65 .14 1.29 .29 1.93 .46c.64 .17 1.27 .36 1.89 .57c.63 .2 1.25 .43 1.86 .68c.61 .24 1.22 .5 1.83 .78c.6 .27 1.2 .56 1.79 .87c.6 .3 1.19 .61 1.77 .94c.59 .32 1.17 .66 1.76 1c.58 .34 1.15 .69 1.73 1.05c.58 .35 1.15 .71 1.72 1.08c.57 .36 1.14 .73 1.72 1.09c.57 .37 1.14 .74 1.71 1.1c.57 .35 1.15 .71 1.72 1.06c.58 .35 1.16 .69 1.74 1.02c.58 .33 1.17 .65 1.76 .95c.6 .3 1.19 .59 1.8 .86c.6 .27 1.21 .52 1.82 .76c.62 .25 1.24 .47 1.86 .69c.62 .21 1.25 .42 1.88 .61c.63 .19 1.27 .37 1.91 .55c.63 .17 1.28 .34 1.92 .49c.64 .16 1.29 .31 1.94 .45c.65 .15 1.3 .29 1.95 .42c.66 .14 1.31 .27 1.97 .39c.65 .13 1.31 .26 1.97 .38c.66 .13 1.31 .25 1.97 .37c.66 .13 1.32 .25 1.98 .38c.65 .13 1.31 .26 1.97 .39c.65 .13 1.31 .27 1.96 .41c.66 .15 1.31 .3 1.96 .45c.65 .16 1.3 .32 1.94 .49c.65 .17 1.29 .35 1.93 .53c.64 .19 1.28 .38 1.92 .57c.64 .2 1.27 .4 1.91 .6c.63 .21 1.27 .42 1.9 .63c.63 .22 1.26 .43 1.89 .66c.63 .22 1.26 .44 1.89 .67c.63 .23 1.25 .46 1.88 .69c.63 .23 1.25 .47 1.88 .7c.62 .24 1.25 .47 1.87 .71c.63 .24 1.25 .47 1.88 .71c.62 .24 1.24 .47 1.87 .71c.62 .23 1.25 .47 1.87 .7c.63 .23 1.25 .46 1.88 .69c.62 .23 1.25 .46 1.88 .68c.63 .22 1.25 .44 1.88 .66c.63 .21 1.26 .43 1.89 .63c.63 .21 1.27 .41 1.9 .61c.63 .2 1.27 .39 1.9 .58c.64 .18 1.28 .36 1.92 .53c.64 .18 1.28 .34 1.93 .5c.64 .16 1.29 .31 1.93 .45c.65 .15 1.3 .28 1.95 .41c.66 .12 1.31 .24 1.97 .34c.66 .11 1.32 .21 1.98 .3c.66 .08 1.33 .16 2 .22c.67 .07 1.34 .12 2.02 .16c.67 .05 1.35 .08 2.03 .09c.68 .02 1.71 .02 2.06 .02" stroke="#000"/>
<path d="M837.99 765.82c.34-.02 1.35-.1 2.02-.13c.67-.02 1.34-.03 2.01-.04c.67-0 1.34 .01 2.01 .02c.67 .01 1.33 .04 2 .06c.67 .02 1.33 .04 2 .06c.66 .02 1.33 .05 1.99 .06c.67 .01 1.33 .02 1.99 .01c.67-0 1.33-.01 1.99-.04c.66-.03 1.33-.07 1.99-.13c.66-.06 1.32-.14 1.98-.24c.66-.1 1.32-.23 1.98-.38c.66-.15 1.33-.32 1.98-.53c.65-.2 1.3-.43 1.93-.69c.63-.26 1.25-.55 1.84-.86c.59-.32 1.17-.66 1.71-1.04c.54-.38 1.05-.78 1.53-1.22c.48-.43 .93-.89 1.35-1.38c.43-.49 .82-1 1.19-1.53c.38-.53 .72-1.09 1.05-1.65c.33-.57 .63-1.16 .93-1.76c.29-.6 .56-1.21 .82-1.83c.26-.62 .51-1.25 .74-1.89c.24-.63 .47-1.28 .69-1.92c.22-.64 .43-1.29 .64-1.93c.21-.65 .41-1.29 .61-1.94c.19-.65 .39-1.29 .57-1.94c.19-.65 .37-1.3 .55-1.95c.17-.65 .35-1.29 .51-1.94c.17-.65 .33-1.31 .49-1.96c.16-.65 .31-1.3 .46-1.95c.15-.65 .3-1.31 .44-1.96c.14-.65 .28-1.31 .41-1.96c.14-.65 .27-1.31 .39-1.96c.13-.66 .25-1.32 .37-1.97c.12-.66 .24-1.31 .36-1.97c.11-.66 .22-1.31 .33-1.97c.11-.66 .22-1.32 .32-1.97c.1-.66 .2-1.32 .3-1.98c.1-.66 .2-1.32 .29-1.98c.1-.65 .19-1.31 .28-1.97c.09-.66 .18-1.32 .27-1.98c.09-.66 .18-1.32 .26-1.98c.09-.66 .17-1.32 .26-1.99c.08-.66 .16-1.32 .24-1.98c.09-.66 .17-1.32 .25-1.98c.08-.66 .16-1.32 .24-1.99c.08-.66 .15-1.32 .23-1.98c.08-.66 .15-1.33 .23-1.99c.08-.66 .15-1.32 .23-1.98c.07-.67 .15-1.33 .22-1.99c.07-.66 .14-1.33 .22-1.99c.07-.66 .14-1.32 .21-1.99c.07-.66 .14-1.32 .21-1.99c.07-.66 .14-1.32 .21-1.99c.07-.66 .13-1.32 .2-1.99c.07-.66 .13-1.32 .2-1.99c.06-.66 .13-1.32 .19-1.99c.07-.66 .13-1.33 .2-1.99c.06-.66 .12-1.33 .19-1.99c.06-.67 .12-1.33 .18-2c.06-.66 .12-1.32 .18-1.99c.06-.66 .12-1.33 .18-1.99c.06-.67 .12-1.33 .18-2c.06-.66 .12-1.33 .17-1.99c.06-.67 .12-1.33 .17-2c.06-.66 .12-1.33 .17-1.99c.06-.67 .11-1.33 .17-2c.05-.66 .11-1.33 .16-1.99c.05-.67 .11-1.34 .16-2c.05-.67 .1-1.33 .16-2c.05-.66 .1-1.33 .15-2c.05-.66 .1-1.33 .16-1.99c.05-.67 .1-1.33 .15-2c.05-.67 .1-1.33 .15-2c.04-.67 .09-1.33 .14-2c.05-.66 .1-1.33 .15-2c.04-.66 .09-1.33 .14-1.99c.05-.67 .09-1.34 .14-2c.05-.67 .09-1.34 .14-2c.05-.67 .09-1.34 .14-2c.04-.67 .09-1.33 .14-2c.04-.67 .09-1.33 .13-2c.05-.67 .09-1.33 .13-2c.05-.67 .09-1.33 .14-2c.04-.67 .08-1.33 .13-2c.04-.67 .09-1.33 .13-2c.04-.67 .08-1.33 .13-2c.04-.67 .08-1.33 .13-2c.04-.67 .08-1.33 .12-2c.05-.67 .09-1.33 .13-2c.04-.67 .08-1.33 .13-2c.04-.67 .08-1.33 .12-2c.04-.67 .09-1.33 .13-2c.04-.67 .08-1.33 .12-2c.04-.66 .08-1.33 .12-2c.05-.66 .09-1.33 .13-2c.04-.66 .08-1.33 .12-2c.04-.66 .08-1.33 .12-2c.04-.66 .08-1.33 .12-2c.04-.66 .08-1.33 .12-2c.04-.66 .08-1.33 .12-1.99c.04-.67 .08-1.34 .12-2c.04-.67 .08-1.34 .12-2c.04-.67 .08-1.34 .12-2c.04-.67 .07-1.34 .11-2c.04-.67 .08-1.34 .12-2c.04-.67 .08-1.33 .12-2c.03-.67 .07-1.33 .11-2c.04-.67 .08-1.33 .12-2c.03-.67 .07-1.33 .11-2c.04-.67 .08-1.33 .11-2c.04-.66 .08-1.33 .12-2c.03-.66 .07-1.33 .11-2c.04-.66 .07-1.33 .11-2c.04-.66 .07-1.33 .11-1.99c.04-.67 .07-1.34 .11-2c.04-.67 .07-1.34 .11-2c.04-.67 .07-1.34 .11-2c.04-.67 .07-1.34 .11-2c.04-.67 .07-1.33 .11-2c.03-.67 .07-1.33 .11-2c.03-.67 .07-1.33 .1-2c.04-.67 .07-1.33 .11-2c.04-.66 .07-1.33 .11-2c.03-.66 .07-1.33 .1-2c.04-.66 .07-1.33 .11-2c.03-.66 .07-1.33 .1-1.99c.04-.67 .07-1.34 .11-2c.03-.67 .06-1.34 .1-2c.03-.67 .07-1.34 .1-2c.04-.67 .07-1.33 .1-2c.04-.67 .07-1.33 .11-2c.03-.67 .06-1.33 .1-2c.03-.67 .07-1.33 .1-2c.03-.66 .07-1.33 .1-2c.03-.66 .07-1.33 .1-2c.03-.66 .07-1.33 .1-2c.03-.66 .06-1.33 .1-2c.03-.66 .06-1.33 .1-1.99c.03-.67 .06-1.34 .09-2c.04-.67 .07-1.34 .1-2c.03-.67 .07-1.34 .1-2c.03-.67 .06-1.34 .1-2c.03-.67 .06-1.33 .09-2c.03-.67 .07-1.33 .1-2c.03-.67 .06-1.33 .09-2c.04-.67 .07-1.33 .1-2c.03-.67 .06-1.33 .09-2c.03-.67 .07-1.33 .1-2c.03-.66 .06-1.33 .09-2c.03-.66 .06-1.33 .09-2c.04-.66 .07-1.33 .1-2c.03-.66 .06-1.33 .09-2c.03-.66 .06-1.33 .09-2c.03-.66 .06-1.33 .09-2c.03-.66 .06-1.33 .09-2c.04-.66 .07-1.33 .1-2c.03-.66 .06-1.33 .09-1.99c.03-.67 .06-1.34 .09-2c.03-.67 .06-1.34 .09-2c.03-.67 .06-1.34 .08-2c.03-.67 .06-1.34 .09-2c.03-.67 .06-1.34 .09-2c.03-.67 .06-1.34 .09-2c.03-.67 .06-1.34 .09-2c.03-.67 .06-1.34 .09-2c.02-.67 .05-1.34 .08-2c.03-.67 .06-1.34 .09-2.01c.03-.66 .06-1.33 .09-2c.02-.66 .05-1.33 .08-2c.03-.66 .06-1.33 .09-2c.03-.66 .05-1.33 .08-2c.03-.66 .06-1.33 .09-2c.03-.66 .05-1.33 .08-2c.03-.66 .06-1.33 .09-2c.03-.67 .05-1.33 .08-2c.03-.67 .06-1.33 .09-2c.02-.67 .05-1.33 .08-2c.03-.67 .05-1.33 .08-2c.03-.67 .06-1.33 .09-2c.02-.67 .05-1.34 .08-2c.03-.67 .05-1.34 .08-2c.03-.67 .06-1.34 .08-2c.03-.67 .06-1.34 .09-2.01c.02-.66 .05-1.33 .08-2c.03-.66 .05-1.33 .08-2c.03-.66 .05-1.33 .08-2c.03-.67 .06-1.33 .08-2c.03-.67 .06-1.33 .08-2c.03-.67 .06-1.33 .09-2c.02-.67 .05-1.34 .08-2c.02-.67 .05-1.34 .08-2c.03-.67 .05-1.34 .08-2.01c.03-.66 .05-1.33 .08-2c.03-.66 .05-1.33 .08-2c.03-.66 .05-1.33 .08-2c.03-.67 .05-1.33 .08-2c.03-.67 .06-1.33 .08-2c.03-.67 .06-1.34 .08-2c.03-.67 .06-1.34 .08-2c.03-.67 .06-1.34 .08-2.01c.03-.66 .06-1.33 .08-2c.03-.66 .06-1.33 .08-2c.03-.67 .06-1.33 .08-2c.03-.67 .06-1.33 .08-2c.03-.67 .06-1.34 .08-2c.03-.67 .06-1.34 .08-2c.03-.67 .06-1.34 .08-2.01c.03-.66 .06-1.33 .08-2c.03-.66 .06-1.33 .08-2c.03-.67 .06-1.33 .08-2c.03-.67 .06-1.33 .08-2c.03-.67 .06-1.34 .08-2c.03-.67 .06-1.34 .09-2c.02-.67 .05-1.34 .08-2.01c.02-.66 .05-1.33 .08-2c.02-.66 .05-1.33 .08-2c.02-.67 .05-1.33 .08-2c.02-.67 .05-1.33 .08-2c.03-.67 .05-1.34 .08-2c.03-.67 .05-1.34 .08-2c.03-.67 .06-1.34 .08-2.01c.03-.66 .06-1.33 .08-2c.03-.66 .06-1.33 .09-2c.02-.67 .05-1.33 .08-2c.02-.67 .05-1.33 .08-2c.03-.67 .05-1.34 .08-2c.03-.67 .06-1.34 .08-2c.03-.67 .06-1.34 .09-2.01c.02-.66 .05-1.33 .08-2c.03-.66 .05-1.33 .08-2c.03-.67 .06-1.33 .09-2c.02-.67 .05-1.33 .08-2c.03-.67 .06-1.34 .08-2c.03-.67 .06-1.34 .09-2c.03-.67 .05-1.34 .08-2c.03-.67 .06-1.34 .09-2.01c.02-.66 .05-1.33 .08-2c.03-.66 .06-1.33 .09-2c.03-.67 .05-1.33 .08-2c.03-.67 .06-1.33 .09-2c.03-.67 .06-1.33 .08-2c.03-.67 .06-1.34 .09-2c.03-.67 .06-1.34 .09-2c.03-.67 .06-1.34 .09-2c.02-.67 .05-1.34 .08-2.01c.03-.66 .06-1.33 .09-2c.03-.66 .06-1.33 .09-2c.03-.66 .06-1.33 .09-2c.03-.66 .06-1.33 .09-2c.03-.67 .06-1.33 .09-2c.03-.67 .06-1.33 .09-2c.03-.67 .06-1.33 .09-2c.03-.67 .06-1.33 .09-2c.03-.67 .06-1.33 .09-2c.03-.67 .06-1.34 .09-2c.03-.67 .06-1.34 .1-2c.03-.67 .06-1.34 .09-2c.03-.67 .06-1.34 .09-2c.03-.67 .06-1.34 .1-2c.03-.67 .06-1.34 .09-2c.03-.67 .06-1.34 .09-2c.04-.67 .07-1.34 .1-2c.03-.67 .06-1.34 .1-2c.03-.67 .06-1.34 .09-2c.03-.67 .07-1.34 .1-2c.03-.67 .06-1.34 .1-2c.03-.67 .06-1.34 .1-2c.03-.67 .06-1.34 .09-2c.04-.67 .07-1.34 .1-2c.04-.67 .07-1.34 .1-2c.04-.67 .07-1.34 .1-2c.04-.67 .07-1.34 .11-2c.03-.67 .06-1.33 .1-2c.03-.67 .07-1.33 .1-2c.03-.67 .07-1.33 .1-2c.04-.67 .07-1.33 .11-2c.03-.67 .07-1.33 .1-2c.04-.66 .07-1.33 .11-2c.03-.66 .07-1.33 .1-2c.04-.66 .07-1.33 .11-2c.04-.66 .07-1.33 .11-1.99c.03-.67 .07-1.34 .1-2c.04-.67 .08-1.34 .11-2c.04-.67 .08-1.33 .11-2c.04-.67 .08-1.33 .11-2c.04-.67 .08-1.33 .11-2c.04-.66 .08-1.33 .12-2c.03-.66 .07-1.33 .11-1.99c.04-.67 .07-1.34 .11-2c.04-.67 .08-1.33 .12-2c.03-.67 .07-1.33 .11-2c.04-.66 .08-1.33 .12-2c.04-.66 .07-1.33 .11-1.99c.04-.67 .08-1.34 .12-2c.04-.67 .08-1.33 .12-2c.04-.67 .08-1.33 .12-2c.04-.66 .08-1.33 .12-2c.04-.66 .08-1.33 .12-1.99c.04-.67 .08-1.33 .12-2c.04-.67 .08-1.33 .12-2c.04-.66 .08-1.33 .13-1.99c.04-.67 .08-1.34 .12-2c.04-.67 .08-1.33 .13-2c.04-.66 .08-1.33 .12-1.99c.04-.67 .09-1.34 .13-2c.04-.67 .08-1.33 .13-2c.04-.66 .08-1.33 .13-1.99c.04-.67 .08-1.34 .13-2c.04-.67 .08-1.33 .13-2c.04-.66 .08-1.33 .13-1.99c.04-.67 .09-1.33 .13-2c.05-.66 .09-1.33 .14-2c.04-.66 .08-1.33 .13-1.99c.05-.67 .09-1.33 .14-2c.04-.66 .09-1.33 .13-1.99c.05-.67 .09-1.33 .14-2c.05-.66 .09-1.33 .14-1.99c.05-.67 .09-1.33 .14-2c.05-.66 .09-1.33 .14-1.99c.05-.67 .1-1.33 .14-2c.05-.66 .1-1.33 .15-1.99c.04-.67 .09-1.33 .14-2c.05-.66 .1-1.33 .15-1.99c.05-.67 .1-1.33 .15-2c.05-.67 .11-1.33 .16-2c.06-.67 .12-1.33 .18-2c.06-.67 .12-1.34 .19-2.01c.06-.67 .13-1.34 .2-2.01c.08-.67 .15-1.34 .23-2.02c.08-.67 .16-1.35 .25-2.02c.09-.68 .18-1.36 .28-2.04c.1-.67 .2-1.35 .32-2.02c.12-.67 .24-1.34 .4-1.99c.15-.65 .31-1.3 .5-1.91c.2-.62 .41-1.24 .66-1.8c.25-.56 .52-1.33 .84-1.59c.33-.26 .78-.24 1.11 .05c.32 .29 .61 1.05 .83 1.71c.22 .67 .35 1.52 .49 2.26c.14 .75 .26 1.48 .37 2.19c.11 .7 .2 1.37 .3 2.04c.09 .67 .18 1.31 .26 1.97c.09 .66 .17 1.31 .26 1.96c.08 .66 .16 1.32 .24 1.97c.08 .66 .16 1.32 .23 1.97c.08 .66 .16 1.32 .23 1.97c.08 .66 .15 1.32 .22 1.98c.07 .66 .14 1.32 .21 1.98c.07 .66 .14 1.32 .21 1.98c.06 .66 .13 1.32 .19 1.98c.07 .66 .13 1.32 .19 1.98c.06 .66 .13 1.32 .19 1.98c.06 .67 .11 1.33 .17 1.99c.06 .66 .12 1.33 .17 1.99c.06 .66 .11 1.33 .17 1.99c.05 .66 .11 1.33 .16 1.99c.05 .66 .1 1.33 .15 1.99c.05 .67 .1 1.33 .15 2c.05 .66 .1 1.33 .15 1.99c.04 .67 .09 1.33 .14 2c.04 .66 .09 1.33 .13 2c.05 .66 .09 1.33 .14 1.99c.04 .67 .08 1.34 .13 2c.04 .67 .08 1.34 .12 2c.04 .67 .08 1.34 .13 2c.04 .67 .08 1.34 .12 2c.04 .67 .07 1.34 .11 2.01c.04 .66 .08 1.33 .12 2c.04 .67 .08 1.33 .11 2c.04 .67 .08 1.34 .12 2c.03 .67 .07 1.34 .11 2.01c.03 .66 .07 1.33 .11 2c.03 .67 .07 1.33 .11 2c.03 .67 .07 1.34 .11 2c.03 .67 .07 1.34 .11 2.01c.03 .66 .07 1.33 .1 2c.04 .67 .08 1.33 .11 2c.04 .67 .07 1.34 .11 2c.04 .67 .07 1.34 .11 2c.03 .67 .07 1.34 .1 2.01c.04 .66 .07 1.33 .11 2c.03 .67 .07 1.33 .11 2c.03 .67 .07 1.34 .1 2c.04 .67 .07 1.34 .11 2c.03 .67 .07 1.34 .1 2.01c.03 .66 .07 1.33 .1 2c.04 .66 .07 1.33 .11 2c.03 .67 .07 1.33 .1 2c.04 .67 .07 1.33 .1 2c.04 .67 .07 1.34 .11 2c.03 .67 .07 1.34 .1 2c.03 .67 .07 1.34 .1 2c.03 .67 .07 1.34 .1 2.01c.04 .66 .07 1.33 .1 2c.04 .66 .07 1.33 .1 2c.04 .66 .07 1.33 .1 2c.04 .66 .07 1.33 .11 2c.03 .66 .06 1.33 .09 2c.04 .67 .07 1.33 .1 2c.04 .67 .07 1.33 .1 2c.04 .67 .07 1.33 .1 2c.04 .67 .07 1.33 .1 2c.03 .67 .07 1.33 .1 2c.03 .67 .06 1.33 .1 2c.03 .67 .06 1.33 .09 2c.04 .67 .07 1.33 .1 2c.03 .67 .07 1.33 .1 2c.03 .67 .06 1.33 .1 2c.03 .67 .06 1.33 .09 2c.03 .67 .07 1.33 .1 2c.03 .67 .06 1.33 .09 2c.04 .67 .07 1.33 .1 2c.03 .67 .06 1.33 .09 2c.04 .67 .07 1.33 .1 2c.03 .67 .06 1.33 .09 2c.04 .67 .07 1.33 .1 2c.03 .67 .06 1.33 .09 2c.04 .67 .07 1.33 .1 2c.03 .67 .06 1.33 .09 2c.03 .67 .06 1.33 .1 2c.03 .67 .06 1.33 .09 2c.03 .67 .06 1.33 .09 2c.03 .66 .06 1.33 .1 2c.03 .66 .06 1.33 .09 2c.03 .66 .06 1.33 .09 2c.03 .66 .06 1.33 .09 2c.03 .66 .06 1.33 .1 2c.03 .66 .06 1.33 .09 2c.03 .66 .06 1.33 .09 1.99c.03 .67 .06 1.34 .09 2c.03 .67 .06 1.34 .09 2c.03 .67 .06 1.34 .09 2c.03 .67 .07 1.34 .1 2c.03 .67 .06 1.34 .09 2c.03 .67 .06 1.33 .09 2c.03 .67 .06 1.33 .09 2c.03 .67 .06 1.33 .09 2c.03 .67 .06 1.33 .09 2c.03 .67 .06 1.33 .09 2c.03 .67 .06 1.33 .09 2c.03 .67 .06 1.33 .09 2c.03 .66 .06 1.33 .09 2c.03 .66 .06 1.33 .09 2c.03 .66 .06 1.33 .09 2c.03 .66 .06 1.33 .09 2c.03 .66 .06 1.33 .09 2c.03 .66 .06 1.33 .09 2c.03 .66 .06 1.33 .09 2c.03 .66 .06 1.33 .09 1.99c.03 .67 .06 1.34 .09 2c.03 .67 .06 1.34 .09 2c.03 .67 .06 1.34 .09 2c.03 .67 .06 1.34 .09 2c.03 .67 .06 1.34 .08 2c.03 .67 .06 1.34 .09 2c.03 .67 .06 1.34 .09 2c.03 .67 .06 1.34 .09 2c.03 .67 .06 1.34 .09 2c.03 .67 .06 1.34 .09 2c.03 .67 .06 1.34 .09 2c.03 .67 .06 1.34 .09 2c.03 .67 .06 1.34 .09 2c.03 .67 .06 1.34 .09 2c.03 .67 .06 1.34 .09 2c.02 .67 .05 1.34 .08 2c.03 .67 .06 1.34 .09 2c.03 .67 .06 1.34 .09 2c.03 .67 .06 1.34 .09 2c.03 .67 .06 1.34 .09 2.01c.03 .66 .06 1.33 .09 2c.03 .66 .06 1.33 .09 2c.03 .66 .06 1.33 .09 2c.03 .66 .06 1.33 .09 2c.03 .66 .06 1.33 .09 2c.03 .66 .06 1.33 .09 2c.03 .66 .06 1.33 .09 2c.03 .67 .06 1.33 .09 2c.03 .67 .06 1.33 .09 2c.03 .67 .06 1.33 .09 2c.03 .67 .06 1.33 .09 2c.03 .67 .06 1.33 .09 2c.03 .67 .06 1.34 .09 2c.03 .67 .07 1.34 .1 2c.03 .67 .06 1.34 .09 2c.03 .67 .06 1.34 .09 2c.03 .67 .06 1.34 .09 2c.03 .67 .06 1.34 .1 2.01c.03 .66 .06 1.33 .09 2c.03 .66 .06 1.33 .09 2c.03 .66 .06 1.33 .09 2c.04 .66 .07 1.33 .1 2c.03 .66 .06 1.33 .09 2c.03 .67 .07 1.33 .1 2c.03 .67 .06 1.33 .09 2c.03 .67 .07 1.33 .1 2c.03 .67 .06 1.33 .09 2c.04 .67 .07 1.33 .1 2c.03 .67 .06 1.34 .1 2c.03 .67 .06 1.34 .09 2c.04 .67 .07 1.34 .1 2c.03 .67 .07 1.34 .1 2c.03 .67 .06 1.34 .1 2c.03 .67 .06 1.34 .09 2c.04 .67 .07 1.34 .1 2.01c.04 .66 .07 1.33 .1 2c.04 .66 .07 1.33 .1 2c.04 .66 .07 1.33 .1 2c.04 .66 .07 1.33 .11 2c.03 .66 .06 1.33 .1 2c.03 .66 .06 1.33 .1 2c.03 .66 .07 1.33 .1 2c.04 .66 .07 1.33 .1 2c.04 .66 .07 1.33 .11 2c.03 .66 .07 1.33 .1 2c.04 .66 .07 1.33 .11 2c.03 .66 .07 1.33 .1 2c.04 .66 .07 1.33 .11 2c.04 .66 .07 1.33 .11 2c.03 .66 .07 1.33 .1 2c.04 .66 .08 1.33 .11 2c.04 .66 .07 1.33 .11 2c.04 .66 .07 1.33 .11 2c.04 .66 .07 1.33 .11 2c.04 .66 .07 1.33 .11 2c.04 .66 .08 1.33 .11 2c.04 .66 .08 1.33 .11 2c.04 .66 .08 1.33 .12 2c.04 .66 .07 1.33 .11 2c.04 .66 .08 1.33 .12 1.99c.03 .67 .07 1.34 .11 2c.04 .67 .08 1.34 .12 2c.03 .67 .07 1.34 .11 2c.04 .67 .08 1.33 .12 2c.04 .67 .08 1.33 .12 2c.04 .67 .08 1.33 .12 2c.04 .67 .08 1.33 .12 2c.04 .66 .08 1.33 .12 2c.04 .66 .08 1.33 .12 2c.04 .66 .08 1.33 .12 1.99c.04 .67 .08 1.34 .12 2c.05 .67 .09 1.34 .13 2c.04 .67 .08 1.33 .12 2c.05 .67 .09 1.33 .13 2c.04 .66 .08 1.33 .13 2c.04 .66 .08 1.33 .12 1.99c.05 .67 .09 1.34 .13 2c.05 .67 .09 1.33 .13 2c.05 .67 .09 1.33 .13 2c.05 .66 .09 1.33 .13 2c.05 .66 .09 1.33 .14 1.99c.04 .67 .09 1.34 .13 2c.04 .67 .09 1.33 .13 2c.05 .67 .09 1.33 .14 2c.05 .66 .09 1.33 .14 1.99c.04 .67 .09 1.34 .13 2c.05 .67 .1 1.33 .14 2c.05 .66 .09 1.33 .14 2c.05 .66 .1 1.33 .14 1.99c.05 .67 .1 1.33 .14 2c.05 .66 .1 1.33 .15 2c.04 .66 .09 1.33 .14 1.99c.05 .67 .1 1.33 .15 2c.04 .66 .09 1.33 .14 2c.05 .66 .1 1.33 .15 1.99c.05 .67 .1 1.33 .15 2c.05 .66 .1 1.33 .15 1.99c.05 .67 .1 1.33 .15 2c.05 .66 .1 1.33 .15 2c.06 .66 .11 1.33 .16 1.99c.05 .67 .1 1.33 .16 2c.05 .66 .1 1.33 .16 1.99c.05 .67 .1 1.33 .16 2c.05 .66 .11 1.33 .16 1.99c.06 .67 .11 1.33 .17 2c.05 .66 .11 1.33 .17 1.99c.05 .67 .11 1.33 .17 2c.06 .66 .11 1.33 .17 1.99c.06 .67 .12 1.33 .18 2c.06 .66 .12 1.32 .18 1.99c.06 .66 .12 1.33 .18 1.99c.06 .67 .12 1.33 .19 2c.06 .66 .12 1.33 .18 1.99c.07 .67 .13 1.33 .2 1.99c.06 .67 .13 1.33 .19 2c.07 .66 .13 1.33 .2 1.99c.07 .67 .13 1.33 .2 1.99c.07 .67 .14 1.33 .21 2c.07 .66 .14 1.33 .21 1.99c.07 .66 .14 1.33 .21 1.99c.07 .67 .14 1.33 .22 2c.07 .66 .15 1.32 .22 1.99c.08 .66 .15 1.32 .23 1.99c.08 .66 .16 1.32 .24 1.99c.09 .66 .17 1.32 .26 1.98c.09 .67 .18 1.33 .27 1.99c.09 .66 .19 1.32 .29 1.98c.1 .66 .2 1.32 .31 1.97c.11 .66 .22 1.32 .34 1.97c.11 .66 .23 1.32 .36 1.97c.13 .65 .25 1.31 .39 1.96c.14 .65 .28 1.3 .42 1.95c.15 .65 .3 1.3 .46 1.95c.16 .65 .32 1.29 .49 1.94c.17 .64 .35 1.29 .54 1.93c.18 .64 .37 1.28 .57 1.92c.2 .64 .4 1.28 .62 1.91c.23 .63 .44 1.27 .72 1.88c.28 .61 .58 1.23 .97 1.79c.39 .57 .86 1.21 1.38 1.6c.51 .4 1.13 .76 1.71 .76c.58-0 1.23-.39 1.77-.77c.55-.39 1.07-1.01 1.51-1.55c.43-.54 .78-1.13 1.11-1.71c.33-.58 .59-1.19 .86-1.8c.27-.61 .5-1.23 .75-1.84c.25-.62 .5-1.23 .75-1.85c.24-.62 .49-1.24 .74-1.86c.25-.61 .5-1.23 .75-1.86c.25-.62 .49-1.24 .74-1.86c.24-.62 .48-1.25 .72-1.87c.24-.62 .48-1.25 .71-1.87c.24-.63 .48-1.25 .71-1.88c.24-.62 .48-1.24 .72-1.87c.24-.62 .48-1.24 .72-1.86c.24-.62 .49-1.24 .74-1.86c.25-.62 .5-1.24 .77-1.85c.26-.61 .53-1.22 .81-1.83c.28-.6 .57-1.2 .88-1.8c.31-.59 .62-1.18 .96-1.76c.34-.58 .69-1.16 1.07-1.72c.38-.55 .78-1.1 1.23-1.6c.44-.5 .92-.98 1.46-1.39c.54-.4 1.14-.79 1.76-1.06c.62-.26 1.31-.48 1.96-.53c.65-.05 1.32 .05 1.94 .26c.62 .21 1.22 .6 1.77 1c.55 .41 1.06 .93 1.53 1.43c.47 .5 .88 1.03 1.27 1.57c.39 .55 .74 1.11 1.07 1.68c.34 .57 .65 1.16 .95 1.74c.31 .59 .6 1.19 .9 1.79c.29 .6 .59 1.2 .88 1.81c.28 .61 .57 1.22 .85 1.83c.28 .61 .56 1.23 .83 1.84c.27 .62 .54 1.23 .8 1.85c.27 .62 .52 1.23 .77 1.85c.26 .61 .51 1.23 .76 1.84c.25 .61 .5 1.22 .75 1.83c.25 .61 .51 1.22 .77 1.82c.26 .61 .53 1.21 .81 1.81c.28 .6 .56 1.19 .87 1.78c.3 .6 .61 1.18 .94 1.77c.33 .58 .67 1.16 1.04 1.73c.36 .58 .74 1.15 1.15 1.71c.41 .56 .83 1.13 1.29 1.66c.45 .53 .93 1.05 1.43 1.5c.5 .44 1.03 .85 1.59 1.15c.56 .3 1.14 .54 1.76 .63c.61 .1 1.27 .07 1.92-.05c.66-.13 1.36-.41 1.99-.71c.63-.3 1.25-.7 1.8-1.09c.55-.4 1.03-.83 1.5-1.27c.48-.45 .9-.92 1.34-1.4c.43-.48 .85-.98 1.3-1.48c.44-.5 .9-1.02 1.38-1.52c.47-.5 .96-1 1.46-1.47c.51-.48 1.03-.94 1.57-1.36c.54-.42 1.1-.81 1.67-1.15c.57-.34 1.17-.64 1.78-.87c.61-.24 1.25-.41 1.89-.52c.64-.11 1.31-.16 1.97-.16c.66 0 1.33 .07 1.99 .17c.66 .11 1.33 .27 1.97 .46c.64 .19 1.27 .43 1.87 .7c.6 .27 1.19 .59 1.75 .92c.57 .33 1.11 .7 1.65 1.08c.54 .38 1.06 .8 1.58 1.21c.52 .42 1.02 .86 1.53 1.3c.51 .44 1.01 .89 1.52 1.34c.51 .44 1.01 .9 1.53 1.34c.52 .44 1.04 .88 1.58 1.3c.53 .42 1.08 .84 1.63 1.23c.56 .4 1.12 .78 1.69 1.14c.57 .35 1.15 .69 1.74 1c.6 .31 1.19 .6 1.8 .86c.61 .25 1.23 .48 1.85 .67c.63 .19 1.26 .35 1.91 .47c.64 .13 1.29 .21 1.94 .28c.66 .07 1.32 .11 1.99 .14c.66 .02 1.33 .03 2.01 .03c.67-0 1.34-.02 2.02-.03c.68-.01 1.35-.03 2.03-.04c.67-.01 1.35-.01 2.02-0c.67 .01 1.34 .03 2.01 .06c.67 .03 1.33 .08 1.99 .13c.67 .06 1.33 .13 1.99 .2c.66 .08 1.31 .16 1.97 .26c.65 .09 1.31 .2 1.96 .31c.65 .11 1.3 .23 1.95 .36c.65 .12 1.3 .26 1.95 .4c.65 .14 1.3 .29 1.94 .44c.65 .15 1.3 .31 1.94 .47c.65 .16 1.29 .33 1.94 .5c.65 .17 1.29 .34 1.94 .52c.64 .18 1.29 .36 1.93 .54c.65 .19 1.29 .38 1.93 .57c.65 .19 1.29 .39 1.93 .59c.64 .2 1.28 .41 1.91 .62c.64 .21 1.28 .42 1.91 .64c.63 .22 1.26 .45 1.89 .68c.63 .22 1.26 .46 1.88 .7c.62 .24 1.24 .48 1.86 .74c.61 .25 1.23 .5 1.84 .77c.6 .26 1.21 .53 1.81 .8c.6 .27 1.2 .56 1.79 .84c.6 .29 1.19 .58 1.77 .88c.58 .3 1.16 .61 1.74 .92c.57 .31 1.13 .64 1.73 .93c.59 .3 1.18 .6 1.83 .84c.66 .25 1.36 .48 2.07 .62c.71 .14 1.49 .25 2.17 .22c.69-.03 1.35-.16 1.96-.38c.6-.22 1.15-.56 1.68-.93c.52-.38 .99-.84 1.45-1.32c.45-.49 .87-1.03 1.27-1.57c.4-.54 .78-1.1 1.15-1.67c.36-.56 .71-1.13 1.04-1.71c.34-.58 .65-1.16 .95-1.75c.3-.59 .59-1.19 .86-1.79c.27-.6 .53-1.21 .78-1.83c.25-.61 .48-1.23 .71-1.85c.22-.62 .44-1.25 .64-1.88c.2-.63 .4-1.27 .58-1.91c.19-.64 .37-1.28 .54-1.92c.17-.65 .34-1.3 .5-1.95c.15-.65 .31-1.3 .46-1.96c.15-.65 .29-1.31 .43-1.96c.14-.66 .28-1.32 .42-1.98c.14-.66 .27-1.32 .41-1.98c.13-.66 .26-1.32 .4-1.98c.14-.66 .27-1.32 .41-1.98c.14-.65 .28-1.31 .42-1.97c.14-.65 .29-1.31 .44-1.96c.14-.66 .29-1.31 .44-1.96c.15-.65 .3-1.3 .45-1.96c.15-.65 .3-1.3 .45-1.95c.15-.65 .3-1.3 .45-1.95c.14-.65 .29-1.3 .44-1.95c.15-.65 .29-1.3 .44-1.95c.14-.65 .28-1.29 .42-1.94c.14-.66 .28-1.31 .41-1.96c.14-.65 .27-1.3 .4-1.95c.12-.65 .25-1.3 .37-1.96c.12-.65 .23-1.31 .34-1.96c.12-.66 .22-1.31 .33-1.97c.1-.66 .2-1.31 .3-1.97c.09-.66 .19-1.32 .28-1.98c.09-.66 .17-1.32 .26-1.98c.08-.66 .17-1.32 .25-1.98c.08-.66 .16-1.33 .23-1.99c.08-.66 .15-1.32 .23-1.99c.07-.66 .15-1.32 .22-1.99c.07-.66 .14-1.33 .21-1.99c.08-.66 .15-1.33 .22-1.99c.07-.67 .14-1.33 .21-2c.07-.66 .15-1.32 .22-1.99c.07-.66 .15-1.33 .22-1.99c.08-.67 .16-1.33 .23-1.99c.08-.67 .16-1.33 .24-2c.09-.66 .17-1.32 .25-1.99c.09-.66 .17-1.32 .26-1.98c.08-.67 .17-1.33 .26-1.99c.09-.67 .17-1.33 .26-1.99c.09-.66 .19-1.33 .28-1.99c.09-.66 .18-1.32 .28-1.98c.09-.67 .18-1.33 .28-1.99c.09-.66 .19-1.32 .28-1.98c.1-.67 .2-1.33 .29-1.99c.1-.66 .2-1.32 .3-1.98c.1-.66 .19-1.32 .29-1.99c.1-.66 .2-1.32 .3-1.98c.1-.66 .2-1.32 .3-1.98c.1-.66 .2-1.32 .3-1.98c.1-.66 .2-1.32 .3-1.98c.1-.66 .2-1.32 .3-1.98c.11-.66 .21-1.32 .31-1.98c.1-.66 .2-1.32 .3-1.98c.1-.66 .2-1.32 .29-1.98c.1-.66 .2-1.32 .3-1.98c.1-.66 .2-1.32 .3-1.98c.09-.66 .19-1.32 .29-1.98c.09-.66 .19-1.32 .29-1.98c.09-.66 .19-1.32 .28-1.98c.1-.66 .19-1.31 .28-1.97c.09-.66 .19-1.32 .28-1.98c.09-.66 .18-1.32 .27-1.98c.09-.66 .17-1.32 .26-1.98c.09-.66 .18-1.31 .27-1.97c.09-.66 .18-1.32 .27-1.98c.09-.66 .18-1.32 .27-1.97c.1-.66 .19-1.32 .29-1.98c.09-.66 .19-1.31 .29-1.97c.1-.66 .21-1.31 .31-1.97c.11-.66 .22-1.31 .33-1.97c.11-.66 .23-1.31 .35-1.97c.12-.65 .24-1.31 .37-1.96c.13-.66 .27-1.31 .4-1.96c.14-.66 .29-1.31 .43-1.96c.15-.66 .31-1.31 .47-1.96c.16-.65 .33-1.3 .5-1.95c.17-.65 .35-1.3 .54-1.95c.19-.65 .38-1.3 .58-1.95c.21-.64 .41-1.29 .63-1.94c.22-.65 .45-1.29 .68-1.94c.23-.64 .48-1.29 .73-1.93c.25-.64 .51-1.29 .78-1.93c.28-.63 .54-1.32 .86-1.89c.31-.58 .62-1.17 1.02-1.55c.39-.37 .82-.67 1.34-.69c.52-.03 1.19 .22 1.77 .55c.58 .32 1.23 .89 1.72 1.41c.49 .52 .87 1.11 1.21 1.7c.34 .59 .58 1.22 .82 1.84c.24 .63 .42 1.28 .63 1.91c.2 .64 .4 1.28 .6 1.92c.2 .64 .4 1.28 .6 1.91c.2 .64 .4 1.28 .6 1.91c.2 .64 .4 1.27 .6 1.91c.2 .63 .4 1.27 .6 1.9c.2 .64 .4 1.27 .6 1.91c.2 .63 .4 1.27 .6 1.91c.2 .63 .4 1.27 .59 1.9c.2 .64 .4 1.27 .6 1.91c.2 .64 .39 1.28 .59 1.91c.2 .64 .39 1.28 .59 1.92c.2 .64 .39 1.28 .59 1.92c.19 .64 .38 1.29 .57 1.93c.19 .64 .37 1.29 .55 1.93c.18 .65 .36 1.29 .53 1.94c.16 .65 .33 1.29 .48 1.94c.16 .65 .31 1.3 .45 1.95c.15 .65 .28 1.31 .42 1.96c.14 .65 .27 1.3 .42 1.94c.14 .65 .29 1.3 .45 1.94c.16 .64 .33 1.29 .52 1.92c.19 .64 .39 1.27 .61 1.9c.23 .63 .47 1.25 .75 1.87c.27 .61 .57 1.22 .9 1.82c.34 .61 .7 1.2 1.11 1.79c.4 .58 .85 1.24 1.32 1.72c.47 .49 1 1.05 1.49 1.19c.5 .14 1.01-.02 1.49-.33c.48-.32 .95-.99 1.37-1.55c.43-.57 .83-1.23 1.19-1.84c.37-.61 .7-1.23 1.01-1.84c.31-.62 .58-1.24 .85-1.86c.26-.62 .49-1.24 .72-1.87c.22-.62 .42-1.25 .62-1.88c.19-.63 .37-1.26 .55-1.89c.17-.64 .34-1.28 .5-1.92c.17-.64 .32-1.28 .48-1.93c.15-.64 .29-1.29 .44-1.94c.14-.65 .28-1.3 .41-1.96c.14-.65 .27-1.31 .39-1.96c.13-.66 .26-1.31 .38-1.97c.12-.66 .24-1.32 .36-1.97c.12-.66 .24-1.32 .36-1.98c.11-.66 .23-1.32 .34-1.98c.12-.65 .23-1.31 .34-1.97c.12-.66 .23-1.32 .34-1.98c.11-.66 .21-1.32 .32-1.98c.11-.66 .22-1.32 .32-1.98c.11-.66 .21-1.32 .31-1.98c.11-.66 .21-1.32 .31-1.98c.1-.66 .2-1.32 .3-1.98c.1-.66 .2-1.32 .29-1.98c.1-.66 .2-1.32 .29-1.98c.1-.66 .19-1.32 .29-1.98c.09-.66 .18-1.32 .27-1.98c.09-.67 .19-1.33 .28-1.99c.08-.66 .17-1.32 .26-1.98c.09-.66 .18-1.33 .26-1.99c.09-.66 .18-1.32 .26-1.98c.09-.66 .17-1.33 .25-1.99c.09-.66 .17-1.32 .25-1.98c.08-.67 .17-1.33 .25-1.99c.08-.66 .16-1.32 .24-1.99c.07-.66 .15-1.32 .23-1.98c.08-.67 .16-1.33 .23-1.99c.08-.66 .16-1.33 .23-1.99c.08-.66 .15-1.33 .23-1.99c.07-.66 .15-1.32 .22-1.99c.07-.66 .15-1.32 .22-1.99c.07-.66 .14-1.32 .21-1.99c.08-.66 .15-1.32 .22-1.99c.07-.66 .14-1.32 .22-1.99c.07-.66 .14-1.32 .21-1.99c.07-.66 .15-1.32 .22-1.99c.07-.66 .14-1.32 .22-1.98c.07-.67 .15-1.33 .22-1.99c.08-.67 .15-1.33 .23-1.99c.07-.67 .15-1.33 .23-1.99c.08-.66 .16-1.33 .24-1.99c.08-.66 .16-1.32 .24-1.99c.08-.66 .17-1.32 .25-1.98c.09-.67 .18-1.33 .27-1.99c.08-.66 .18-1.32 .27-1.98c.09-.67 .18-1.33 .28-1.99c.09-.66 .19-1.32 .29-1.98c.1-.66 .2-1.32 .3-1.98c.11-.66 .21-1.32 .32-1.98c.1-.66 .21-1.32 .32-1.98c.11-.66 .22-1.32 .33-1.98c.11-.66 .22-1.32 .34-1.98c.11-.65 .23-1.31 .34-1.97c.12-.66 .24-1.32 .36-1.97c.11-.66 .23-1.32 .35-1.97c.13-.66 .25-1.32 .37-1.97c.12-.66 .24-1.31 .37-1.97c.12-.66 .25-1.31 .37-1.96c.13-.66 .25-1.31 .38-1.97c.13-.65 .25-1.3 .38-1.96c.13-.65 .26-1.3 .39-1.96c.12-.65 .25-1.3 .38-1.95c.13-.65 .26-1.3 .4-1.95c.14-.65 .28-1.3 .43-1.95c.16-.65 .32-1.29 .5-1.93c.19-.65 .38-1.29 .61-1.92c.22-.64 .46-1.27 .73-1.9c.28-.63 .57-1.27 .9-1.88c.33-.62 .71-1.39 1.1-1.82c.38-.43 .82-.85 1.23-.76c.42 .09 .86 .77 1.24 1.29c.38 .52 .73 1.23 1.05 1.85c.32 .63 .59 1.26 .85 1.89c.25 .64 .47 1.28 .67 1.92c.2 .64 .37 1.29 .54 1.94c.16 .65 .3 1.3 .43 1.96c.13 .65 .25 1.31 .36 1.97c.12 .65 .23 1.31 .34 1.97c.11 .66 .21 1.32 .32 1.98c.11 .65 .21 1.31 .32 1.97c.1 .66 .21 1.32 .31 1.98c.1 .66 .21 1.32 .31 1.98c.1 .65 .2 1.31 .3 1.97c.1 .66 .2 1.32 .3 1.98c.09 .66 .19 1.32 .29 1.98c.1 .66 .19 1.32 .29 1.98c.09 .66 .19 1.32 .28 1.98c.09 .66 .19 1.32 .28 1.98c.09 .66 .18 1.32 .27 1.99c.09 .66 .18 1.32 .27 1.98c.09 .66 .18 1.32 .27 1.98c.09 .66 .17 1.32 .26 1.98c.09 .67 .17 1.33 .26 1.99c.08 .66 .17 1.32 .25 1.98c.09 .66 .17 1.33 .25 1.99c.09 .66 .17 1.32 .25 1.98c.08 .67 .16 1.33 .24 1.99c.08 .66 .16 1.32 .24 1.99c.08 .66 .16 1.32 .24 1.98c.08 .67 .16 1.33 .23 1.99c.08 .66 .16 1.33 .24 1.99c.07 .66 .15 1.33 .22 1.99c.08 .66 .15 1.32 .23 1.99c.07 .66 .15 1.32 .22 1.99c.08 .66 .15 1.32 .22 1.99c.08 .66 .15 1.32 .22 1.99c.07 .66 .15 1.32 .22 1.99c.07 .66 .14 1.32 .21 1.99c.07 .66 .14 1.32 .21 1.99c.07 .66 .15 1.32 .21 1.99c.07 .66 .14 1.33 .21 1.99c.07 .66 .14 1.33 .21 1.99c.07 .66 .14 1.33 .21 1.99c.06 .67 .13 1.33 .2 1.99c.07 .67 .14 1.33 .2 2c.07 .66 .14 1.32 .21 1.99c.06 .66 .13 1.33 .2 1.99c.06 .67 .13 1.33 .2 1.99c.06 .67 .13 1.33 .2 2c.06 .66 .13 1.33 .19 1.99c.07 .66 .14 1.33 .2 1.99c.07 .67 .13 1.33 .2 2c.07 .66 .13 1.32 .2 1.99c.06 .66 .13 1.33 .2 1.99c.06 .67 .13 1.33 .19 1.99c.07 .67 .13 1.33 .2 2c.07 .66 .13 1.33 .2 1.99c.06 .67 .13 1.33 .2 1.99c.06 .67 .13 1.33 .2 2c.06 .66 .13 1.33 .19 1.99c.07 .66 .14 1.33 .2 1.99c.07 .67 .14 1.33 .21 2c.06 .66 .13 1.33 .2 1.99c.06 .66 .13 1.33 .2 1.99c.07 .67 .14 1.33 .2 1.99c.07 .67 .14 1.33 .21 2c.07 .66 .14 1.33 .21 1.99c.07 .66 .13 1.33 .2 1.99c.07 .67 .14 1.33 .21 1.99c.07 .67 .15 1.33 .22 2c.07 .66 .14 1.32 .21 1.99c.07 .66 .14 1.32 .22 1.99c.07 .66 .14 1.33 .21 1.99c.08 .66 .15 1.33 .22 1.99c.08 .66 .15 1.33 .23 1.99c.07 .66 .14 1.33 .22 1.99c.07 .66 .15 1.33 .23 1.99c.07 .66 .15 1.33 .22 1.99c.08 .66 .16 1.33 .23 1.99c.08 .66 .16 1.33 .23 1.99c.08 .66 .16 1.33 .24 1.99c.07 .66 .15 1.32 .23 1.99c.08 .66 .16 1.32 .24 1.99c.07 .66 .15 1.32 .23 1.98c.08 .67 .16 1.33 .24 1.99c.08 .67 .16 1.33 .24 1.99c.08 .66 .16 1.33 .24 1.99c.08 .66 .16 1.32 .24 1.99c.08 .66 .16 1.32 .24 1.98c.09 .67 .17 1.33 .25 1.99c.08 .66 .16 1.32 .24 1.99c.08 .66 .16 1.32 .25 1.98c.08 .67 .16 1.33 .24 1.99c.08 .66 .17 1.32 .25 1.99c.08 .66 .16 1.32 .24 1.98c.09 .66 .17 1.33 .25 1.99c.08 .66 .17 1.32 .25 1.98c.08 .67 .16 1.33 .25 1.99c.08 .66 .16 1.32 .24 1.99c.09 .66 .17 1.32 .25 1.98c.08 .66 .17 1.32 .25 1.99c.08 .66 .17 1.32 .25 1.98c.08 .66 .16 1.32 .25 1.99c.08 .66 .16 1.32 .24 1.98c.09 .66 .17 1.32 .25 1.98c.08 .67 .17 1.33 .25 1.99c.09 .66 .17 1.32 .26 1.98c.08 .66 .17 1.32 .26 1.98c.09 .66 .18 1.32 .27 1.98c.09 .66 .19 1.32 .28 1.98c.1 .66 .2 1.32 .3 1.98c.1 .66 .2 1.32 .31 1.98c.1 .66 .21 1.31 .32 1.97c.12 .66 .23 1.31 .35 1.97c.12 .66 .24 1.31 .37 1.97c.12 .65 .25 1.31 .39 1.96c.13 .66 .27 1.31 .41 1.96c.15 .66 .3 1.31 .45 1.96c.15 .65 .31 1.31 .47 1.96c.16 .65 .33 1.3 .51 1.95c.17 .65 .35 1.3 .53 1.94c.19 .65 .38 1.3 .58 1.94c.2 .65 .4 1.3 .61 1.93c.22 .64 .45 1.28 .69 1.9c.25 .63 .5 1.25 .79 1.85c.28 .6 .58 1.19 .91 1.76c.33 .57 .68 1.13 1.06 1.66c.39 .54 .8 1.05 1.25 1.54c.45 .48 .94 .97 1.46 1.38c.52 .41 1.08 .82 1.67 1.07c.58 .25 1.21 .42 1.84 .43c.64 .01 1.31-.15 1.96-.37c.65-.21 1.32-.56 1.95-.9c.62-.35 1.23-.76 1.8-1.15c.58-.4 1.12-.83 1.66-1.24c.54-.42 1.05-.84 1.57-1.26c.52-.41 1.03-.82 1.56-1.2c.53-.39 1.06-.77 1.62-1.11c.56-.33 1.13-.65 1.74-.92c.61-.27 1.26-.51 1.91-.7c.66-.19 1.35-.34 2.04-.44c.68-.1 1.38-.16 2.05-.17c.68-.01 1.35 .03 2 .12c.65 .09 1.27 .22 1.88 .4c.61 .17 1.2 .4 1.78 .65c.57 .26 1.13 .55 1.68 .88c.55 .32 1.08 .68 1.6 1.06c.53 .39 1.04 .8 1.54 1.23c.51 .43 1 .88 1.49 1.35c.49 .47 .97 .96 1.45 1.45c.47 .5 .95 1.01 1.42 1.52c.47 .51 .94 1.03 1.41 1.54c.47 .52 .94 1.04 1.41 1.55c.47 .52 .94 1.03 1.42 1.53c.48 .49 .97 .98 1.46 1.46c.49 .47 .98 .93 1.49 1.37c.51 .44 1.02 .86 1.54 1.27c.53 .4 1.06 .78 1.6 1.14c.55 .35 1.1 .69 1.67 .99c.57 .3 1.15 .58 1.74 .83c.6 .24 1.21 .46 1.84 .64c.62 .19 1.26 .34 1.91 .46c.65 .12 1.31 .22 1.97 .28c.67 .07 1.35 .11 2.02 .13c.67 .02 1.36 .01 2.03-.01c.68-.03 1.36-.08 2.03-.14c.68-.06 1.35-.14 2.02-.22c.67-.07 1.33-.16 2-.23c.66-.07 1.32-.14 1.98-.18c.66-.03 1.32-.06 1.98-.05c.65 .01 1.31 .05 1.96 .13c.65 .09 1.3 .21 1.94 .36c.65 .14 1.29 .33 1.93 .53c.63 .21 1.27 .44 1.9 .69c.63 .24 1.26 .52 1.88 .79c.62 .28 1.24 .58 1.86 .87c.61 .3 1.22 .61 1.82 .91c.6 .31 1.2 .62 1.79 .93c.6 .3 1.19 .62 1.78 .93c.58 .31 1.17 .62 1.75 .93c.58 .31 1.17 .63 1.75 .94c.58 .31 1.16 .62 1.74 .93c.58 .31 1.16 .61 1.75 .92c.58 .3 1.17 .61 1.76 .91c.59 .3 1.18 .59 1.78 .89c.59 .29 1.19 .58 1.8 .86c.6 .29 1.21 .57 1.83 .85c.62 .27 1.24 .54 1.87 .8c.62 .26 1.26 .52 1.9 .76c.63 .23 1.28 .46 1.92 .67c.65 .2 1.3 .4 1.95 .56c.65 .17 1.31 .32 1.96 .44c.66 .12 1.32 .22 1.97 .28c.66 .07 1.32 .11 1.98 .11c.66-0 1.31-.04 1.97-.1c.66-.07 1.31-.17 1.96-.3c.65-.13 1.3-.29 1.94-.48c.64-.19 1.28-.4 1.91-.64c.63-.24 1.25-.5 1.87-.79c.61-.28 1.22-.59 1.81-.91c.6-.32 1.18-.67 1.75-1.02c.58-.36 1.13-.73 1.68-1.12c.55-.38 1.08-.78 1.61-1.18c.53-.4 1.04-.81 1.56-1.23c.52-.41 1.02-.83 1.54-1.25c.51-.41 1.02-.83 1.54-1.24c.52-.41 1.04-.82 1.57-1.22c.53-.39 1.07-.78 1.62-1.16c.55-.37 1.12-.74 1.7-1.08c.59-.34 1.19-.67 1.8-.98c.62-.3 1.25-.59 1.89-.84c.64-.25 1.29-.49 1.95-.68c.65-.2 1.31-.36 1.97-.49c.66-.12 1.32-.22 1.97-.27c.65-.04 1.31-.05 1.95-.01c.64 .04 1.27 .13 1.9 .25c.62 .13 1.24 .29 1.86 .49c.62 .19 1.23 .42 1.84 .67c.61 .25 1.22 .53 1.83 .82c.6 .29 1.21 .61 1.82 .93c.62 .32 1.23 .66 1.85 .99c.62 .33 1.24 .68 1.86 1c.63 .32 1.26 .65 1.88 .93c.63 .29 1.26 .56 1.89 .78c.63 .22 1.27 .42 1.9 .54c.63 .13 1.26 .22 1.89 .23c.63 .01 1.26-.04 1.88-.16c.63-.12 1.25-.32 1.86-.56c.6-.24 1.21-.55 1.79-.88c.58-.34 1.15-.73 1.69-1.15c.55-.41 1.08-.87 1.58-1.34c.49-.46 .97-.96 1.41-1.47c.45-.5 .87-1.03 1.27-1.56c.4-.54 .77-1.09 1.13-1.65c.36-.57 .7-1.14 1.03-1.72c.32-.58 .63-1.18 .94-1.77c.3-.6 .59-1.2 .88-1.81c.28-.6 .56-1.21 .84-1.82c.28-.61 .55-1.22 .82-1.83c.28-.61 .55-1.22 .83-1.82c.28-.61 .56-1.22 .84-1.82c.28-.6 .56-1.2 .84-1.81c.28-.6 .56-1.2 .84-1.8c.28-.6 .57-1.2 .85-1.8c.28-.61 .56-1.21 .84-1.81c.28-.6 .57-1.21 .85-1.81c.28-.61 .56-1.21 .84-1.82c.28-.61 .56-1.22 .84-1.83c.27-.61 .55-1.23 .82-1.85c.28-.61 .55-1.23 .84-1.85c.28-.61 .56-1.22 .87-1.82c.3-.61 .6-1.2 .93-1.78c.33-.58 .67-1.15 1.04-1.7c.37-.55 .76-1.09 1.18-1.59c.42-.51 .86-1 1.35-1.46c.48-.46 .99-.9 1.55-1.29c.55-.39 1.16-.78 1.77-1.06c.62-.29 1.28-.54 1.93-.65c.65-.1 1.33-.1 1.98 .02c.65 .12 1.32 .39 1.91 .71c.6 .31 1.18 .74 1.69 1.18c.51 .43 .95 .94 1.37 1.45c.42 .52 .79 1.08 1.16 1.64c.36 .56 .7 1.15 1.04 1.72c.34 .58 .68 1.16 1.01 1.75c.34 .58 .68 1.16 1.01 1.74c.34 .58 .67 1.16 1 1.74c.33 .58 .65 1.17 .97 1.75c.32 .58 .64 1.17 .95 1.76c.31 .59 .62 1.17 .92 1.76c.31 .59 .61 1.18 .91 1.78c.3 .59 .6 1.18 .9 1.77c.3 .6 .59 1.19 .89 1.79c.29 .59 .59 1.19 .89 1.79c.3 .59 .59 1.19 .89 1.79c.3 .6 .6 1.19 .91 1.79c.3 .6 .61 1.2 .92 1.8c.31 .6 .62 1.2 .95 1.79c.32 .59 .65 1.19 .99 1.76c.35 .58 .7 1.16 1.07 1.71c.38 .55 .77 1.1 1.18 1.62c.41 .52 .84 1.02 1.3 1.5c.46 .48 .94 .93 1.46 1.36c.52 .42 1.06 .83 1.64 1.17c.57 .34 1.18 .67 1.8 .89c.63 .22 1.28 .39 1.94 .45c.66 .06 1.35 .01 2.03-.12c.67-.12 1.37-.36 2.02-.63c.65-.26 1.3-.62 1.89-.97c.59-.35 1.14-.75 1.64-1.14c.51-.4 .96-.81 1.41-1.23c.46-.42 .87-.86 1.32-1.3c.45-.44 .9-.89 1.39-1.34c.5-.45 1.03-.92 1.59-1.36c.56-.45 1.17-.9 1.78-1.31c.62-.41 1.26-.82 1.91-1.17c.64-.34 1.31-.67 1.96-.92c.65-.25 1.31-.46 1.95-.58c.64-.13 1.27-.19 1.87-.16c.61 .03 1.19 .15 1.75 .34c.55 .19 1.09 .47 1.6 .8c.52 .32 1.01 .72 1.49 1.15c.48 .43 .94 .92 1.39 1.43c.45 .5 .88 1.05 1.3 1.6c.42 .55 .83 1.13 1.23 1.7c.4 .56 .79 1.14 1.17 1.71c.39 .57 .76 1.15 1.13 1.73c.36 .58 .72 1.15 1.07 1.74c.35 .58 .69 1.16 1.03 1.74c.34 .59 .67 1.17 1 1.76c.32 .58 .64 1.17 .95 1.76c.32 .59 .63 1.18 .93 1.77c.31 .59 .61 1.19 .91 1.78c.3 .59 .59 1.19 .88 1.78c.29 .6 .58 1.19 .87 1.79c.28 .59 .57 1.19 .85 1.79c.28 .59 .56 1.19 .85 1.79c.28 .6 .56 1.2 .84 1.79c.28 .6 .56 1.2 .84 1.8c.28 .6 .56 1.2 .85 1.8c.28 .59 .57 1.19 .86 1.79c.28 .6 .57 1.2 .87 1.8c.29 .59 .58 1.19 .88 1.79c.3 .59 .61 1.19 .92 1.79c.3 .59 .61 1.19 .93 1.78c.32 .59 .64 1.18 .98 1.77c.33 .58 .66 1.17 1.01 1.75c.35 .57 .7 1.15 1.06 1.71c.37 .57 .74 1.13 1.12 1.68c.39 .55 .78 1.1 1.19 1.63c.4 .53 .82 1.06 1.25 1.57c.44 .51 .88 1.02 1.34 1.51c.46 .48 .93 .96 1.42 1.42c.49 .46 1 .91 1.52 1.34c.52 .43 1.05 .84 1.6 1.23c.54 .39 1.1 .75 1.67 1.09c.57 .34 1.16 .66 1.75 .94c.6 .28 1.21 .53 1.82 .75c.62 .22 1.25 .41 1.89 .56c.63 .14 1.28 .25 1.94 .32c.65 .08 1.32 .1 1.99 .12c.66 .01 1.34-.01 2.02-.04c.68-.03 1.36-.09 2.04-.14c.69-.05 1.37-.12 2.06-.17c.68-.05 1.37-.11 2.05-.14c.68-.04 1.36-.06 2.03-.06c.67 .01 1.34 .03 2 .08c.67 .05 1.33 .13 1.98 .22c.66 .09 1.31 .2 1.95 .33c.65 .12 1.3 .27 1.94 .42c.64 .15 1.28 .32 1.92 .5c.64 .17 1.28 .36 1.91 .54c.64 .19 1.28 .39 1.91 .59c.64 .2 1.27 .4 1.91 .6c.64 .21 1.27 .41 1.91 .62c.63 .21 1.27 .41 1.91 .62c.63 .21 1.27 .42 1.91 .63c.63 .2 1.27 .41 1.91 .62c.64 .2 1.27 .4 1.91 .6c.64 .2 1.28 .4 1.92 .59c.64 .19 1.28 .38 1.92 .57c.65 .18 1.29 .36 1.93 .53c.65 .17 1.29 .34 1.94 .49c.64 .16 1.29 .31 1.94 .46c.65 .14 1.3 .27 1.95 .4c.65 .12 1.3 .24 1.95 .34c.66 .11 1.31 .2 1.97 .29c.66 .09 1.32 .16 1.98 .23c.66 .07 1.32 .13 1.98 .18c.66 .06 1.32 .11 1.99 .15c.66 .04 1.33 .08 1.99 .11c.67 .03 1.33 .06 2 .08c.67 .03 1.33 .05 2 .07c.67 .02 1.34 .04 2.01 .06c.66 .01 1.33 .03 2 .05c.67 .02 1.34 .03 2.01 .05c.67 .02 1.34 .05 2.01 .07c.66 .03 1.33 .05 2 .09c.67 .03 1.34 .07 2 .11c.67 .04 1.34 .09 2 .14c.67 .06 1.34 .12 2 .19c.66 .07 1.33 .15 1.99 .23c.66 .09 1.32 .18 1.99 .28c.66 .1 1.32 .2 1.98 .31c.66 .11 1.32 .23 1.98 .35c.65 .12 1.31 .24 1.97 .37c.66 .12 1.31 .25 1.97 .38c.66 .13 1.32 .26 1.97 .4c.66 .13 1.31 .26 1.97 .4c.66 .13 1.31 .26 1.97 .39c.65 .13 1.31 .26 1.97 .38c.65 .13 1.31 .25 1.97 .37c.65 .12 1.31 .23 1.96 .34c.66 .11 1.32 .21 1.98 .31c.65 .1 1.31 .19 1.97 .27c.66 .09 1.32 .16 1.98 .23c.66 .07 1.32 .13 1.98 .17c.66 .05 1.32 .09 1.98 .12c.66 .03 1.32 .04 1.99 .05c.66 0 1.33-0 1.99-.03c.67-.02 1.33-.05 2-.1c.67-.05 1.34-.11 2.01-.19c.67-.08 1.34-.17 2.01-.28c.67-.12 1.35-.24 2.02-.39c.68-.14 1.69-.41 2.03-.49" stroke="#f00"/>
</g>
<path d="M1469.2 86.2H1557.3" stroke="#000" stroke-width="4.3" stroke-linecap="round"/>
<path d="M1469.2 135.6H1557.3" stroke="#f00" stroke-width="4.3" stroke-linecap="round"/>
<text transform="translate(1567.46 99.6) scale(0.9671 1)" font-size="41.5">6C AA'</text>
<text transform="translate(1567.46 148.6) scale(0.9671 1)" font-size="41.5">6C AB'</text>
</g>
</svg>
</body>
</html>
